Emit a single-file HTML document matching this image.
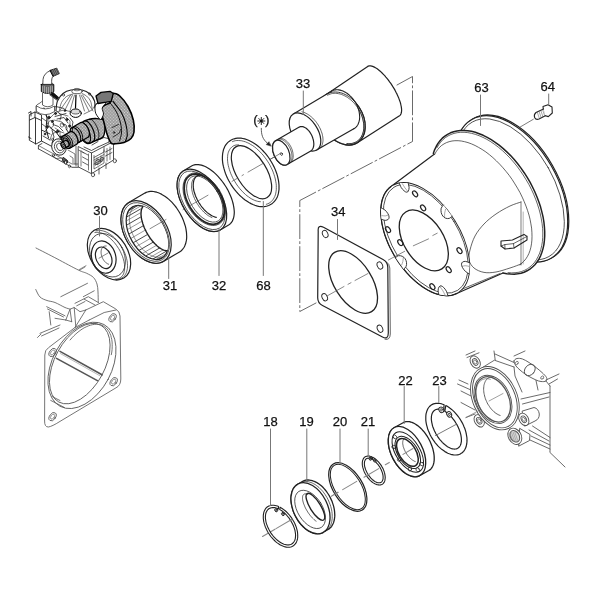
<!DOCTYPE html>
<html><head><meta charset="utf-8"><title>diagram</title>
<style>
html,body{margin:0;padding:0;background:#fff;}
body{width:600px;height:600px;overflow:hidden;}
svg{display:block;font-family:"Liberation Sans",sans-serif;}
text{fill:#111;stroke:#111;stroke-width:0.25px;}
.t{filter:grayscale(1);}
</style></head><body>
<svg width="600" height="600" viewBox="0 0 600 600" stroke-linecap="round" stroke-linejoin="round">
<defs><pattern id="ht" width="2.2" height="2.2" patternUnits="userSpaceOnUse" patternTransform="rotate(45)"><rect width="2.2" height="2.2" fill="#a3a3a3"/><rect width="1" height="1" fill="#d6d6d6"/><rect x="1.2" y="1.2" width="0.8" height="0.8" fill="#8c8c8c"/></pattern></defs>
<rect width="600" height="600" fill="#fff"/>
<path d="M36.0 248.0 C39.5 249.8 50.0 255.1 57.0 258.8 C64.0 262.5 73.3 267.6 78.3 270.0 C83.2 272.4 84.2 272.1 86.7 273.3 C89.2 274.6 91.8 275.7 93.5 277.5 C95.2 279.3 96.2 281.6 97.0 284.0 C97.8 286.4 97.8 288.9 98.0 292.0 C98.2 295.1 98.2 300.8 98.3 302.5" fill="none" stroke="#5c5c5c" stroke-width="0.85" />
<path d="M80.0 270.0 L85.0 267.0" fill="none" stroke="#5c5c5c" stroke-width="0.7" />
<path d="M35.8 289.5 C36.5 290.8 38.1 295.2 40.0 297.0 C41.9 298.8 44.5 299.6 47.0 300.5 C49.5 301.4 52.0 301.3 55.0 302.5 C58.0 303.7 62.5 306.4 65.0 307.5 C67.5 308.6 69.2 308.8 70.0 309.0" fill="none" stroke="#5c5c5c" stroke-width="0.85" />
<path d="M60.8 296.7 L87.5 283.3" fill="none" stroke="#5c5c5c" stroke-width="0.85" />
<path d="M83.3 296.7 L94.2 290.8" fill="none" stroke="#5c5c5c" stroke-width="0.85" />
<path d="M75.0 303.3 L88.3 296.7 L98.3 302.5" fill="none" stroke="#5c5c5c" stroke-width="0.85" />
<path d="M76.7 305.8 L85.0 301.5" fill="none" stroke="#5c5c5c" stroke-width="0.85" />
<path d="M84.2 299.2 L95.0 305.0" fill="none" stroke="#5c5c5c" stroke-width="0.85" />
<path d="M65.8 320.0 L70.0 309.2 L74.2 307.5 L75.8 326.7" fill="none" stroke="#5c5c5c" stroke-width="0.85" />
<path d="M70.0 309.5 L71.7 321.7" fill="none" stroke="#5c5c5c" stroke-width="0.85" />
<path d="M65.8 320.0 L71.7 321.7" fill="none" stroke="#5c5c5c" stroke-width="0.85" />
<path d="M74.2 307.5 L80.0 311.7 L85.8 310.0" fill="none" stroke="#5c5c5c" stroke-width="0.85" />
<path d="M46.7 306.7 L65.0 315.8" fill="none" stroke="#5c5c5c" stroke-width="0.85" />
<path d="M47.5 309.0 L63.5 317.0" fill="none" stroke="#5c5c5c" stroke-width="0.85" />
<path d="M49.2 311.7 L50.8 325.0" fill="none" stroke="#5c5c5c" stroke-width="0.85" />
<path d="M55.0 318.3 L65.8 320.0" fill="none" stroke="#5c5c5c" stroke-width="0.85" />
<path d="M40.0 333.3 L60.0 325.0" fill="none" stroke="#5c5c5c" stroke-width="0.85" />
<path d="M41.5 336.0 L59.0 328.0" fill="none" stroke="#5c5c5c" stroke-width="0.85" />
<path d="M37.5 337.5 L41.0 334.0" fill="none" stroke="#5c5c5c" stroke-width="0.85" />
<path d="M85.8 310 L103.3 301.7 L115.5 308.8 Q120 311.5 120 316 L120.8 379 Q120.8 385.5 116 387.8 L60 421.4 Q52 426.5 48.3 427 Q44.5 427 44.6 421 L44.8 355 Q44.8 350 48.5 347.7 L75 327.5" fill="none" stroke="#5c5c5c" stroke-width="0.85" />
<path d="M75.0 327.5 L85.8 310.0" fill="none" stroke="#5c5c5c" stroke-width="0.85" />
<path d="M89.2 320.0 L104.2 312.5 L116.0 310.0" fill="none" stroke="#5c5c5c" stroke-width="0.85" />
<path d="M75.5 327.3 L89.2 320.0" fill="none" stroke="#5c5c5c" stroke-width="0.85" />
<ellipse cx="82.0" cy="365.4" rx="29.6" ry="46.4" transform="rotate(28.2 82.0 365.4)" fill="none" stroke="#5c5c5c" stroke-width="0.85"/>
<ellipse cx="79.8" cy="363.6" rx="25.0" ry="43.8" transform="rotate(28.6 79.8 363.6)" fill="none" stroke="#5c5c5c" stroke-width="0.85"/>
<path d="M70.1 340.0 L72.0 337.8 L73.9 335.8 L75.9 333.9 L78.0 332.1 L80.1 330.5 L82.1 329.1 L84.2 327.8 L86.3 326.8 L88.4 325.9 L90.4 325.2 L92.4 324.7 L94.3 324.4 L96.2 324.3 L98.0 324.4 L99.8 324.7 L101.4 325.1 L103.0 325.8 L104.5 326.7 L105.8 327.7 L107.1 329.0 L108.2 330.4 L109.2 331.9 L110.0 333.7 L110.8 335.5 L111.3 337.6 L111.8 339.7 L112.1 342.0 L112.2 344.4 L112.2 346.8 L112.1 349.4 L111.8 352.0 L111.3 354.7" fill="none" stroke="#5c5c5c" stroke-width="0.85" />
<path d="M60.0 351.4 L102.0 374.7" fill="none" stroke="#555" stroke-width="1.6" />
<path d="M56.5 358.4 L97.4 380.6" fill="none" stroke="#555" stroke-width="1.6" />
<path d="M60.5 353.6 L100.0 375.8" fill="none" stroke="#888" stroke-width="0.6" />
<path d="M50.7 400.4 L64.5 407.5" fill="none" stroke="#5c5c5c" stroke-width="0.85" />
<path d="M52.0 396.5 L60.0 400.5" fill="none" stroke="#5c5c5c" stroke-width="0.85" />
<ellipse cx="112.6" cy="317.8" rx="3.0" ry="4.6" transform="rotate(35.0 112.6 317.8)" fill="none" stroke="#5c5c5c" stroke-width="0.85"/>
<ellipse cx="112.6" cy="317.8" rx="1.7" ry="2.8" transform="rotate(35.0 112.6 317.8)" fill="none" stroke="#5c5c5c" stroke-width="0.6"/>
<ellipse cx="52.6" cy="352.5" rx="3.0" ry="4.6" transform="rotate(35.0 52.6 352.5)" fill="none" stroke="#5c5c5c" stroke-width="0.85"/>
<ellipse cx="52.6" cy="352.5" rx="1.7" ry="2.8" transform="rotate(35.0 52.6 352.5)" fill="none" stroke="#5c5c5c" stroke-width="0.6"/>
<ellipse cx="113.7" cy="381.7" rx="3.0" ry="4.6" transform="rotate(35.0 113.7 381.7)" fill="none" stroke="#5c5c5c" stroke-width="0.85"/>
<ellipse cx="113.7" cy="381.7" rx="1.7" ry="2.8" transform="rotate(35.0 113.7 381.7)" fill="none" stroke="#5c5c5c" stroke-width="0.6"/>
<ellipse cx="52.6" cy="416.7" rx="3.0" ry="4.6" transform="rotate(35.0 52.6 416.7)" fill="none" stroke="#5c5c5c" stroke-width="0.85"/>
<ellipse cx="52.6" cy="416.7" rx="1.7" ry="2.8" transform="rotate(35.0 52.6 416.7)" fill="none" stroke="#5c5c5c" stroke-width="0.6"/>
<path d="M457.5 384.0 L471.0 390.0" fill="none" stroke="#505050" stroke-width="0.85" />
<path d="M461.0 391.0 L471.0 396.0" fill="none" stroke="#505050" stroke-width="0.85" />
<path d="M461.0 402.5 L475.0 410.0" fill="none" stroke="#505050" stroke-width="0.85" />
<path d="M466.0 417.5 L475.0 414.0" fill="none" stroke="#505050" stroke-width="0.85" />
<path d="M459.0 380.0 L468.0 384.0" fill="none" stroke="#505050" stroke-width="0.85" />
<path d="M482.5 367.5 L494.4 360.2 L514.0 367.0" fill="none" stroke="#505050" stroke-width="0.85" />
<path d="M494.0 351.0 L495.2 360.0" fill="none" stroke="#505050" stroke-width="0.85" />
<path d="M495.0 354.0 L514.0 362.5" fill="none" stroke="#505050" stroke-width="0.85" />
<path d="M466.0 355.0 L475.0 351.0" fill="none" stroke="#505050" stroke-width="0.85" />
<path d="M467.0 357.5 L479.0 352.8" fill="none" stroke="#505050" stroke-width="0.85" />
<path d="M514.0 356.0 L525.0 351.0" fill="none" stroke="#505050" stroke-width="0.85" />
<path d="M514.0 361.0 C514.2 359.8 515.6 358.8 517.0 358.5 C518.4 358.2 520.5 358.3 522.5 359.0 C524.5 359.7 526.8 361.1 529.0 362.5 C531.2 363.9 533.8 365.8 536.0 367.5 C538.2 369.2 540.2 370.8 542.0 372.5 C543.8 374.2 545.8 376.1 546.5 377.5 C547.2 378.9 546.9 380.3 546.0 381.0 C545.1 381.7 542.7 381.7 541.0 381.5 C539.3 381.3 537.8 380.8 536.0 380.0 C534.2 379.2 531.8 378.0 530.0 377.0 C528.2 376.0 526.7 375.2 525.0 374.0 C523.3 372.8 521.5 371.3 520.0 370.0 C518.5 368.7 517.0 367.5 516.0 366.0 C515.0 364.5 513.8 362.2 514.0 361.0Z" fill="#fff" stroke="#505050" stroke-width="0.9" />
<ellipse cx="529.8" cy="370.0" rx="4.8" ry="6.3" transform="rotate(40.0 529.8 370.0)" fill="none" stroke="#505050" stroke-width="0.9"/>
<ellipse cx="516.8" cy="363.0" rx="1.3" ry="1.8" transform="rotate(40.0 516.8 363.0)" fill="none" stroke="#505050" stroke-width="0.7"/>
<ellipse cx="542.2" cy="377.6" rx="1.3" ry="1.8" transform="rotate(40.0 542.2 377.6)" fill="none" stroke="#505050" stroke-width="0.7"/>
<path d="M546.0 380.0 L559.0 374.0" fill="none" stroke="#505050" stroke-width="0.85" />
<path d="M549.0 384.0 L557.5 379.0" fill="none" stroke="#505050" stroke-width="0.85" />
<path d="M514.0 367.0 L515.0 376.0 L522.0 392.0" fill="none" stroke="#505050" stroke-width="0.85" />
<path d="M536.0 380.5 L538.0 390.0" fill="none" stroke="#505050" stroke-width="0.85" />
<path d="M550.0 386.0 L550.0 452.0" fill="none" stroke="#505050" stroke-width="0.85" />
<path d="M521.0 399.0 L550.0 392.5" fill="none" stroke="#505050" stroke-width="0.85" />
<path d="M522.5 404.0 L549.0 397.0" fill="none" stroke="#505050" stroke-width="0.85" />
<path d="M546.0 381.0 L550.0 386.0" fill="none" stroke="#505050" stroke-width="0.85" />
<path d="M522.5 411 L534 407.5 Q538.5 408.5 539.3 414 Q539.5 419 535 421 L525 426 Z" fill="#fff" stroke="#505050" stroke-width="0.9" />
<ellipse cx="523.8" cy="419.3" rx="4.6" ry="6.6" transform="rotate(-30.0 523.8 419.3)" fill="#fff" stroke="#505050" stroke-width="0.9"/>
<ellipse cx="523.8" cy="419.3" rx="2.4" ry="3.6" transform="rotate(-30.0 523.8 419.3)" fill="none" stroke="#505050" stroke-width="0.9"/>
<ellipse cx="523.8" cy="419.3" rx="1.4" ry="2.2" transform="rotate(-30.0 523.8 419.3)" fill="none" stroke="#505050" stroke-width="0.6"/>
<path d="M532.5 426.0 L550.0 437.5" fill="none" stroke="#505050" stroke-width="0.85" />
<path d="M529.0 430.0 L549.0 441.0" fill="none" stroke="#505050" stroke-width="0.85" />
<path d="M520 428.5 L530 434.5 L529.5 440.5 L519 446 Z" fill="#fff" stroke="#505050" stroke-width="0.9" />
<ellipse cx="514.8" cy="436.3" rx="6.4" ry="8.6" transform="rotate(-30.0 514.8 436.3)" fill="#fff" stroke="#505050" stroke-width="0.9"/>
<ellipse cx="514.8" cy="436.3" rx="4.4" ry="6.2" transform="rotate(-30.0 514.8 436.3)" fill="#ddd" stroke="#555" stroke-width="1.0"/>
<line x1="508.3" y1="433.1" x2="511.3" y2="441.6" stroke="#777" stroke-width="0.5" />
<line x1="509.9" y1="432.8" x2="512.9" y2="441.3" stroke="#777" stroke-width="0.5" />
<line x1="511.5" y1="432.5" x2="514.5" y2="441.0" stroke="#777" stroke-width="0.5" />
<line x1="513.1" y1="432.2" x2="516.1" y2="440.7" stroke="#777" stroke-width="0.5" />
<line x1="514.7" y1="431.9" x2="517.7" y2="440.4" stroke="#777" stroke-width="0.5" />
<path d="M530.0 440.0 L550.0 449.0" fill="none" stroke="#505050" stroke-width="0.85" />
<path d="M550.0 452.5 L565.0 467.0" fill="none" stroke="#505050" stroke-width="0.85" />
<path d="M531.0 436.0 L550.0 445.0" fill="none" stroke="#505050" stroke-width="0.85" />
<ellipse cx="475.2" cy="362.0" rx="4.6" ry="6.6" transform="rotate(-30.0 475.2 362.0)" fill="#fff" stroke="#505050" stroke-width="0.9"/>
<ellipse cx="475.2" cy="362.0" rx="2.4" ry="3.6" transform="rotate(-30.0 475.2 362.0)" fill="none" stroke="#505050" stroke-width="0.9"/>
<ellipse cx="475.2" cy="362.0" rx="1.4" ry="2.2" transform="rotate(-30.0 475.2 362.0)" fill="none" stroke="#505050" stroke-width="0.6"/>
<ellipse cx="479.2" cy="420.8" rx="4.6" ry="6.6" transform="rotate(-30.0 479.2 420.8)" fill="#fff" stroke="#505050" stroke-width="0.9"/>
<ellipse cx="479.2" cy="420.8" rx="2.4" ry="3.6" transform="rotate(-30.0 479.2 420.8)" fill="none" stroke="#505050" stroke-width="0.9"/>
<ellipse cx="479.2" cy="420.8" rx="1.4" ry="2.2" transform="rotate(-30.0 479.2 420.8)" fill="none" stroke="#505050" stroke-width="0.6"/>
<ellipse cx="494.9" cy="398.2" rx="22.1" ry="33.2" transform="rotate(-24.1 494.9 398.2)" fill="#fff" stroke="#505050" stroke-width="0.9"/>
<ellipse cx="494.9" cy="398.2" rx="20.1" ry="31.2" transform="rotate(-24.1 494.9 398.2)" fill="none" stroke="#505050" stroke-width="0.9"/>
<ellipse cx="493.0" cy="399.4" rx="17.2" ry="25.4" transform="rotate(-25.2 493.0 399.4)" fill="none" stroke="#505050" stroke-width="0.9"/>
<ellipse cx="493.0" cy="399.4" rx="15.7" ry="23.9" transform="rotate(-25.2 493.0 399.4)" fill="none" stroke="#555" stroke-width="1.3"/>
<path d="M500.1 415.4 L499.1 415.1 L498.1 414.6 L497.1 414.0 L496.0 413.4 L495.0 412.6 L494.0 411.8 L493.1 410.9 L492.1 409.9 L491.2 408.9 L490.3 407.8 L489.5 406.6 L488.7 405.4 L487.9 404.2 L487.2 402.9 L486.6 401.5 L486.0 400.2 L485.4 398.8 L485.0 397.4 L484.6 396.0 L484.3 394.6 L484.0 393.3 L483.8 391.9 L483.7 390.6 L483.6 389.2 L483.7 388.0 L483.8 386.7 L483.9 385.5 L484.2 384.4 L484.5 383.3 L484.9 382.3 L485.3 381.4 L485.8 380.5 L486.4 379.7 L487.0 379.0 L487.7 378.4 L488.5 377.9 L489.3 377.4 L490.1 377.1 L491.0 376.9 L491.9 376.7 L492.8 376.7 L493.8 376.7" fill="none" stroke="#505050" stroke-width="0.9" />
<path d="M491.2 419.3 L490.0 418.6 L488.9 417.9 L487.8 417.1 L486.7 416.2 L485.7 415.2 L484.7 414.1 L483.7 413.0 L482.7 411.8 L481.8 410.5 L481.0 409.2 L480.2 407.8 L479.5 406.4 L478.8 405.0 L478.2 403.5 L477.7 402.0 L477.2 400.5 L476.9 399.0 L476.6 397.6 L476.3 396.1 L476.2 394.6 L476.1 393.2 L476.1 391.8 L476.2 390.4 L476.4 389.1 L476.6 387.8 L477.0 386.6 L477.4 385.5 L477.8 384.4 L478.4 383.5 L479.0 382.6 L479.7 381.7 L480.4 381.0 L481.2 380.4 L482.1 379.8 L483.0 379.4 L483.9 379.1 L484.9 378.8 L485.9 378.7 L487.0 378.7 L488.1 378.8 L489.2 379.0 L490.3 379.3" fill="none" stroke="#505050" stroke-width="0.6" />
<line x1="489.0" y1="401.0" x2="503.0" y2="393.5" stroke="#777" stroke-width="0.7" />
<line x1="466.0" y1="417.5" x2="478.0" y2="411.0" stroke="#777" stroke-width="0.7" />
<path d="M29.7 114.5 L35.0 112.0 L41.5 115.0 L41.5 141.0 L36.0 144.0 L29.7 140.5Z" fill="#fff" stroke="#222" stroke-width="0.9" />
<path d="M35.0 112.0 L35.0 117.5 L29.7 120.0" fill="none" stroke="#222" stroke-width="0.9" />
<path d="M35.0 117.5 L41.5 120.5" fill="none" stroke="#222" stroke-width="0.9" />
<path d="M35.5 118.0 L35.5 144.0" fill="none" stroke="#222" stroke-width="0.9" />
<path d="M28.5 113.0 L31.0 111.5 L31.0 116.0" fill="none" stroke="#222" stroke-width="0.9" />
<path d="M28.5 137.0 L31.0 138.5" fill="none" stroke="#222" stroke-width="0.9" />
<path d="M38.4 148.8 L72.0 167.3 L78.0 167.3 L84.0 164.0 L84.0 160.0" fill="none" stroke="#222" stroke-width="0.8" />
<path d="M38.4 148.8 L38.4 145.5 L42.0 143.5" fill="none" stroke="#222" stroke-width="0.8" />
<path d="M38.4 145.5 L72.0 164.0 L78.0 164.0" fill="none" stroke="#222" stroke-width="0.6" />
<path d="M41.5 141.0 L52.0 146.5" fill="none" stroke="#222" stroke-width="0.9" />
<path d="M41.5 130.0 L50.0 134.0" fill="none" stroke="#222" stroke-width="0.9" />
<path d="M78.5 146.7 L91.5 153.0 L113.5 141.5 L113.5 160.0 L91.5 173.7 L78.5 167.0Z" fill="#fff" stroke="#222" stroke-width="0.8" />
<path d="M91.5 153.0 L91.5 173.7" fill="none" stroke="#222" stroke-width="0.8" />
<path d="M81.0 150.5 L81.0 166.0" fill="none" stroke="#222" stroke-width="0.6" />
<path d="M88.5 154.0 L88.5 170.0" fill="none" stroke="#222" stroke-width="0.6" />
<path d="M94.0 155.5 L94.0 169.0 L104.0 163.0 L104.0 150.0" fill="none" stroke="#222" stroke-width="0.6" />
<path d="M97.0 158.0 L97.0 165.0 L101.0 162.5 L101.0 156.0" fill="none" stroke="#222" stroke-width="0.6" />
<path d="M107.0 148.5 L107.0 161.0" fill="none" stroke="#222" stroke-width="0.6" />
<path d="M110.0 147.0 L110.0 159.5" fill="none" stroke="#222" stroke-width="0.6" />
<path d="M94.0 160.0 L104.0 154.5" fill="none" stroke="#222" stroke-width="0.6" />
<path d="M94.0 164.0 L104.0 158.5" fill="none" stroke="#222" stroke-width="0.6" />
<ellipse cx="93.0" cy="174.8" rx="1.6" ry="2.0" transform="rotate(0.0 93.0 174.8)" fill="#fff" stroke="#222" stroke-width="0.7"/>
<ellipse cx="114.8" cy="160.8" rx="1.6" ry="2.0" transform="rotate(0.0 114.8 160.8)" fill="#fff" stroke="#222" stroke-width="0.7"/>
<ellipse cx="110.0" cy="142.0" rx="1.5" ry="1.8" transform="rotate(0.0 110.0 142.0)" fill="#fff" stroke="#222" stroke-width="0.6"/>
<path d="M94.0 157.5 L104.0 152.0 L104.0 147.0" fill="none" stroke="#222" stroke-width="0.7" />
<path d="M99.0 168.0 L99.0 174.0" fill="none" stroke="#222" stroke-width="0.7" />
<path d="M106.0 163.0 L106.0 168.5" fill="none" stroke="#222" stroke-width="0.7" />
<path d="M82.5 152.0 L88.0 155.0" fill="none" stroke="#222" stroke-width="0.7" />
<path d="M82.5 157.0 L88.0 160.0" fill="none" stroke="#222" stroke-width="0.7" />
<path d="M82.5 162.0 L88.0 165.0" fill="none" stroke="#222" stroke-width="0.7" />
<path d="M95.5 161.0 L99.0 159.0 L99.0 163.0 L95.5 165.0Z" fill="none" stroke="#222" stroke-width="0.8" />
<path d="M100.5 158.3 L103.0 157.0 L103.0 160.5 L100.5 162.0Z" fill="none" stroke="#222" stroke-width="0.8" />
<path d="M105.5 152.0 L112.0 148.5" fill="none" stroke="#222" stroke-width="0.7" />
<path d="M105.5 156.0 L112.0 152.5" fill="none" stroke="#222" stroke-width="0.7" />
<ellipse cx="59.0" cy="147.0" rx="7.2" ry="8.3" transform="rotate(-20.0 59.0 147.0)" fill="#fff" stroke="#222" stroke-width="0.9"/>
<ellipse cx="59.5" cy="147.0" rx="5.0" ry="6.0" transform="rotate(-20.0 59.5 147.0)" fill="none" stroke="#222" stroke-width="0.7"/>
<ellipse cx="60.0" cy="146.8" rx="3.2" ry="3.8" transform="rotate(-20.0 60.0 146.8)" fill="none" stroke="#222" stroke-width="0.7"/>
<path d="M50.0 140.0 L52.0 134.0 L58.0 131.0 L64.0 133.0" fill="none" stroke="#222" stroke-width="0.6" />
<path d="M52.0 155.0 L56.0 158.5 L62.0 158.0" fill="none" stroke="#222" stroke-width="0.6" />
<ellipse cx="52.5" cy="139.5" rx="1.0" ry="1.2" transform="rotate(0.0 52.5 139.5)" fill="none" stroke="#222" stroke-width="0.6"/>
<ellipse cx="53.5" cy="155.3" rx="1.0" ry="1.2" transform="rotate(0.0 53.5 155.3)" fill="none" stroke="#222" stroke-width="0.6"/>
<path d="M63.5 157.5 L67.5 160.5 L66.5 163.5 L62.5 161 Z" fill="#555" stroke="#000" stroke-width="0.8" />
<ellipse cx="65.8" cy="162.4" rx="1.3" ry="1.7" transform="rotate(0.0 65.8 162.4)" fill="#fff" stroke="#000" stroke-width="0.8"/>
<path d="M68.0 150.0 L75.0 154.0 L75.0 164.0" fill="none" stroke="#222" stroke-width="0.6" />
<path d="M70.0 156.0 L73.0 158.0 L73.0 163.0" fill="none" stroke="#222" stroke-width="0.6" />
<ellipse cx="69.5" cy="166.3" rx="1.1" ry="1.5" transform="rotate(0.0 69.5 166.3)" fill="none" stroke="#222" stroke-width="0.6"/>
<path d="M50.0 118.0 L56.0 112.0 L64.0 110.0 L72.0 112.0" fill="none" stroke="#222" stroke-width="0.6" />
<path d="M47.0 124.0 L54.0 120.0 L62.0 122.0 L66.0 128.0" fill="none" stroke="#222" stroke-width="0.6" />
<path d="M44.0 112.0 L48.0 118.0 L48.0 128.0 L44.0 132.0" fill="none" stroke="#222" stroke-width="0.6" />
<ellipse cx="51.0" cy="124.0" rx="2.6" ry="3.5" transform="rotate(-10.0 51.0 124.0)" fill="#fff" stroke="#222" stroke-width="0.6"/>
<ellipse cx="62.0" cy="125.0" rx="1.8" ry="2.2" transform="rotate(0.0 62.0 125.0)" fill="none" stroke="#222" stroke-width="0.6"/>
<path d="M55.0 128.0 L60.0 131.0 L60.0 137.0" fill="none" stroke="#222" stroke-width="0.6" />
<path d="M66.0 117.0 L70.0 121.0 L70.0 128.0" fill="none" stroke="#222" stroke-width="0.6" />
<ellipse cx="49.0" cy="117.5" rx="1.2" ry="1.5" transform="rotate(0.0 49.0 117.5)" fill="#333" stroke="#000" stroke-width="0.5"/>
<ellipse cx="52.3" cy="121.5" rx="1.0" ry="1.2" transform="rotate(0.0 52.3 121.5)" fill="#333" stroke="#000" stroke-width="0.5"/>
<ellipse cx="47.3" cy="126.8" rx="1.0" ry="1.3" transform="rotate(0.0 47.3 126.8)" fill="#333" stroke="#000" stroke-width="0.5"/>
<ellipse cx="57.5" cy="131.5" rx="1.1" ry="1.4" transform="rotate(0.0 57.5 131.5)" fill="#333" stroke="#000" stroke-width="0.5"/>
<ellipse cx="61.0" cy="137.0" rx="1.0" ry="1.2" transform="rotate(0.0 61.0 137.0)" fill="#333" stroke="#000" stroke-width="0.5"/>
<ellipse cx="55.5" cy="113.5" rx="1.0" ry="1.2" transform="rotate(0.0 55.5 113.5)" fill="#333" stroke="#000" stroke-width="0.5"/>
<ellipse cx="67.0" cy="119.5" rx="1.0" ry="1.3" transform="rotate(0.0 67.0 119.5)" fill="#333" stroke="#000" stroke-width="0.5"/>
<ellipse cx="69.5" cy="126.0" rx="1.0" ry="1.2" transform="rotate(0.0 69.5 126.0)" fill="#333" stroke="#000" stroke-width="0.5"/>
<ellipse cx="45.0" cy="134.0" rx="0.9" ry="1.1" transform="rotate(0.0 45.0 134.0)" fill="#333" stroke="#000" stroke-width="0.5"/>
<ellipse cx="65.0" cy="110.5" rx="0.9" ry="1.1" transform="rotate(0.0 65.0 110.5)" fill="#333" stroke="#000" stroke-width="0.5"/>
<path d="M44.0 108.0 L47.0 118.0 L46.0 128.0 L48.5 138.0" fill="none" stroke="#000" stroke-width="0.9" />
<path d="M48.0 110.0 L56.0 106.5 L64.0 108.5" fill="none" stroke="#222" stroke-width="0.8" />
<path d="M50.0 127.5 L56.0 132.0 L61.5 139.5" fill="none" stroke="#000" stroke-width="0.9" />
<path d="M55.0 116.5 L66.0 113.5" fill="none" stroke="#222" stroke-width="0.8" />
<path d="M57.0 119.0 L64.0 117.5 L68.0 123.0" fill="none" stroke="#222" stroke-width="0.8" />
<path d="M53.0 124.5 L58.5 126.5 L63.0 131.0" fill="none" stroke="#222" stroke-width="0.8" />
<path d="M66.0 129.0 L69.0 133.0 L68.0 138.0" fill="none" stroke="#000" stroke-width="0.9" />
<path d="M42.0 118.0 L46.0 121.0" fill="none" stroke="#222" stroke-width="0.7" />
<path d="M42.0 124.0 L46.0 127.0" fill="none" stroke="#222" stroke-width="0.7" />
<path d="M43.0 136.0 L50.0 140.0" fill="none" stroke="#222" stroke-width="0.8" />
<path d="M58.0 112.0 C58.5 112.6 60.7 114.2 61.0 115.5 C61.3 116.8 60.2 119.2 60.0 120.0" fill="none" stroke="#222" stroke-width="0.8" />
<path d="M62.0 124.0 C62.7 124.2 65.2 124.2 66.0 125.0 C66.8 125.8 66.8 128.3 67.0 129.0" fill="none" stroke="#222" stroke-width="0.8" />
<path d="M70.0 118.0 L73.0 122.0 L72.0 127.0" fill="none" stroke="#222" stroke-width="0.8" />
<path d="M52.0 130.0 L54.0 137.0 L52.0 143.0" fill="none" stroke="#222" stroke-width="0.8" />
<path d="M76.0 146.0 L76.0 166.0" fill="none" stroke="#222" stroke-width="0.7" />
<path d="M78.5 150.0 L84.0 153.0" fill="none" stroke="#222" stroke-width="0.6" />
<path d="M96.0 141.0 L104.0 137.5 L110.0 139.0" fill="none" stroke="#222" stroke-width="0.8" />
<path d="M98.0 147.0 L108.0 142.5" fill="none" stroke="#222" stroke-width="0.8" />
<path d="M92.0 145.0 L98.0 141.5" fill="none" stroke="#222" stroke-width="0.8" />
<path d="M84.0 147.0 L91.5 150.5 L98.0 147.0" fill="none" stroke="#222" stroke-width="0.8" />
<path d="M36.5 111.0 C36.5 110.1 35.9 106.8 36.5 105.5 C37.1 104.2 39.0 103.8 40.0 103.0 C41.0 102.2 42.1 101.3 42.5 101.0" fill="none" stroke="#222" stroke-width="0.7" />
<path d="M36.5 106 Q45 112 54.5 106 L54.5 111.5 Q45 118 36.5 111.5 Z" fill="#fff" stroke="#222" stroke-width="0.7" />
<path d="M42.5 92 L42.5 105 Q47.5 108.5 53 105 L53 92 Z" fill="#fff" stroke="#222" stroke-width="0.7" />
<path d="M41.3 84.5 L41.3 91.5 Q47.5 95.5 53.8 91.5 L53.8 84.5 Q47.5 81 41.3 84.5 Z" fill="#666" stroke="#000" stroke-width="0.9" />
<path d="M42.5 86.5 L42.5 92.5" fill="none" stroke="#ddd" stroke-width="0.5" />
<path d="M44.5 86.5 L44.5 92.5" fill="none" stroke="#ddd" stroke-width="0.5" />
<path d="M46.5 87.3 L46.5 93.3" fill="none" stroke="#ddd" stroke-width="0.5" />
<path d="M48.5 87.3 L48.5 93.3" fill="none" stroke="#ddd" stroke-width="0.5" />
<path d="M50.5 86.5 L50.5 92.5" fill="none" stroke="#ddd" stroke-width="0.5" />
<path d="M52.5 86.5 L52.5 92.5" fill="none" stroke="#ddd" stroke-width="0.5" />
<path d="M42.8 84 L43 79.5 Q43.5 73.5 50.5 70.5 L53.5 76 Q51 77.5 51.8 84 Z" fill="#fff" stroke="#222" stroke-width="0.8" />
<path d="M50.3 70.3 L56.8 68.2 L59.3 73.6 L53.3 76.2 Z" fill="#444" stroke="#000" stroke-width="0.9" />
<path d="M52.0 69.9 L54.6 75.4" fill="none" stroke="#bbb" stroke-width="0.5" />
<path d="M53.6 69.4 L56.2 74.9" fill="none" stroke="#bbb" stroke-width="0.5" />
<path d="M55.2 68.9 L57.8 74.4" fill="none" stroke="#bbb" stroke-width="0.5" />
<path d="M56.8 68.4 L59.4 73.9" fill="none" stroke="#bbb" stroke-width="0.5" />
<path d="M50 94.5 L53 92.5 L58.8 97.5 L57 99.8 Z" fill="#111" stroke="#000" stroke-width="0.7" />
<path d="M56.0 110.5 C56.2 108.9 56.3 103.8 57.5 101.0 C58.7 98.2 60.8 95.3 63.0 93.5 C65.2 91.7 67.8 90.6 71.0 90.0 C74.2 89.4 78.8 89.3 82.0 90.0 C85.2 90.7 87.9 92.2 90.0 94.0 C92.1 95.8 93.7 98.7 94.5 101.0 C95.3 103.3 94.9 106.8 95.0 108.0" fill="none" stroke="#222" stroke-width="1.1" />
<path d="M59.5 110.0 C59.8 108.8 60.3 104.8 61.5 102.5 C62.7 100.2 64.6 97.9 66.5 96.5 C68.4 95.1 71.9 94.4 73.0 94.0" fill="none" stroke="#222" stroke-width="0.6" />
<path d="M92.0 108.0 C91.8 106.8 91.4 103.0 90.5 101.0 C89.6 99.0 87.9 97.2 86.5 96.0 C85.1 94.8 82.8 93.9 82.0 93.5" fill="none" stroke="#222" stroke-width="0.6" />
<ellipse cx="77.0" cy="91.5" rx="5.2" ry="2.2" transform="rotate(0.0 77.0 91.5)" fill="#fff" stroke="#222" stroke-width="0.7"/>
<ellipse cx="77.0" cy="89.6" rx="3.4" ry="1.2" transform="rotate(0.0 77.0 89.6)" fill="none" stroke="#222" stroke-width="0.6"/>
<path d="M70.7 95.0 L59.5 111.0" fill="none" stroke="#222" stroke-width="0.6" />
<path d="M72.5 95.0 L64.5 111.0" fill="none" stroke="#222" stroke-width="0.6" />
<path d="M74.5 95.0 L70.0 111.0" fill="none" stroke="#222" stroke-width="0.6" />
<path d="M79.5 95.0 L84.5 111.0" fill="none" stroke="#222" stroke-width="0.6" />
<path d="M81.0 95.0 L89.0 111.0" fill="none" stroke="#222" stroke-width="0.6" />
<path d="M82.6 95.0 L93.0 111.0" fill="none" stroke="#222" stroke-width="0.6" />
<path d="M76.0 95.0 L75.5 108.0" fill="none" stroke="#000" stroke-width="1.2" />
<ellipse cx="75.7" cy="113.2" rx="5.6" ry="4.2" transform="rotate(0.0 75.7 113.2)" fill="#fff" stroke="#000" stroke-width="1.0"/>
<ellipse cx="75.7" cy="111.6" rx="4.4" ry="2.4" transform="rotate(0.0 75.7 111.6)" fill="#ddd" stroke="#222" stroke-width="0.7"/>
<path d="M55.5 110.0 L59.0 113.5 L68.0 116.0" fill="none" stroke="#222" stroke-width="0.6" />
<path d="M84.0 114.0 L92.0 110.0 L96.0 104.0" fill="none" stroke="#222" stroke-width="0.6" />
<ellipse cx="63.5" cy="95.0" rx="1.0" ry="1.2" transform="rotate(0.0 63.5 95.0)" fill="none" stroke="#222" stroke-width="0.6"/>
<ellipse cx="89.5" cy="94.0" rx="1.0" ry="1.2" transform="rotate(0.0 89.5 94.0)" fill="none" stroke="#222" stroke-width="0.6"/>
<path d="M81.9 122.7 C83.1 121.0 85.9 120.2 88.0 119.6 C90.1 119.0 93.7 118.4 96.0 118.5 C98.3 118.6 102.2 118.6 103.5 120.0 C104.8 121.4 105.1 125.5 105.0 128.0 C104.9 130.6 104.5 135.1 103.0 137.0 C101.5 138.9 97.3 139.8 95.0 140.8 C92.7 141.8 89.7 143.8 87.8 143.6 C85.9 143.4 83.5 141.4 82.3 139.5 C81.1 137.6 80.1 133.5 80.0 131.0 C79.9 128.5 80.7 124.4 81.9 122.7Z" fill="url(#ht)" stroke="#000" stroke-width="1.3" />
<ellipse cx="84.8" cy="133.0" rx="4.6" ry="10.6" transform="rotate(-22.0 84.8 133.0)" fill="url(#ht)" stroke="#000" stroke-width="1.0"/>
<path d="M85.1 121.0 L85.4 121.0 L85.7 121.0 L86.1 121.0 L86.5 121.2 L86.9 121.3 L87.3 121.5 L87.7 121.8 L88.1 122.1 L88.5 122.5 L88.9 122.9 L89.3 123.3 L89.7 123.8 L90.1 124.3 L90.5 124.8 L90.9 125.4 L91.3 126.0 L91.7 126.7 L92.0 127.3 L92.4 128.0 L92.7 128.7 L93.0 129.4 L93.3 130.1 L93.5 130.8 L93.8 131.6 L94.0 132.3 L94.2 133.0 L94.3 133.7 L94.5 134.4 L94.6 135.1 L94.7 135.7 L94.7 136.4 L94.7 137.0 L94.7 137.6 L94.7 138.1 L94.6 138.7 L94.5 139.2 L94.4 139.6 L94.3 140.0 L94.1 140.4 L93.9 140.7 L93.7 141.0 L93.4 141.2 L93.1 141.4 L92.8 141.5 L92.5 141.6" fill="none" stroke="#000" stroke-width="1.2" />
<path d="M89.3 119.2 L89.6 119.2 L89.9 119.2 L90.3 119.2 L90.7 119.4 L91.1 119.5 L91.5 119.7 L91.9 120.0 L92.3 120.3 L92.7 120.7 L93.1 121.1 L93.5 121.5 L93.9 122.0 L94.3 122.5 L94.7 123.0 L95.1 123.6 L95.5 124.2 L95.9 124.9 L96.2 125.5 L96.6 126.2 L96.9 126.9 L97.2 127.6 L97.5 128.3 L97.7 129.0 L98.0 129.8 L98.2 130.5 L98.4 131.2 L98.5 131.9 L98.7 132.6 L98.8 133.3 L98.9 133.9 L98.9 134.6 L98.9 135.2 L98.9 135.8 L98.9 136.3 L98.8 136.9 L98.7 137.4 L98.6 137.8 L98.5 138.2 L98.3 138.6 L98.1 138.9 L97.9 139.2 L97.6 139.4 L97.3 139.6 L97.0 139.7 L96.7 139.8" fill="none" stroke="#000" stroke-width="0.9" />
<path d="M100.3 109.0 C100.5 107.0 103.7 105.9 105.0 105.0 C106.3 104.1 109.1 103.5 110.0 102.6 C110.9 101.7 111.1 99.2 111.5 98.0 C111.9 96.8 111.9 93.6 113.0 93.3 C114.1 93.0 117.8 94.2 119.8 96.0 C121.8 97.8 126.2 103.3 128.0 106.5 C129.8 109.7 132.5 116.6 133.3 120.0 C134.1 123.4 134.3 129.5 134.0 132.0 C133.7 134.5 132.3 137.1 131.0 138.5 C129.7 139.9 126.1 141.8 124.0 142.5 C121.9 143.2 117.0 143.7 115.3 143.8 C113.6 143.9 112.1 144.4 111.0 143.0 C109.9 141.6 107.7 136.1 106.7 133.0 C105.7 129.9 104.2 123.2 103.3 120.0 C102.4 116.8 100.1 111.0 100.3 109.0Z" fill="url(#ht)" stroke="#000" stroke-width="1.6" />
<path d="M113.0 101.3 C114.4 103.2 119.2 108.8 121.3 112.5 C123.4 116.2 124.8 120.0 125.8 123.8 C126.8 127.5 127.3 132.1 127.3 135.0 C127.2 137.9 125.8 140.0 125.5 141.0" fill="none" stroke="#000" stroke-width="1.1" />
<path d="M110.0 102.8 C111.1 104.3 114.8 108.6 116.5 112.0 C118.2 115.4 119.7 119.5 120.5 123.0 C121.3 126.5 121.7 130.0 121.5 133.0 C121.3 136.0 119.8 139.7 119.5 141.0" fill="none" stroke="#000" stroke-width="0.9" />
<path d="M97.0 103.5 C98.5 102.9 105.3 101.7 106.0 102.3 C106.7 102.9 102.5 106.4 102.2 108.0 C101.9 109.6 103.7 112.5 103.5 114.0 C103.3 115.5 101.5 119.6 100.5 119.5 C99.5 119.4 96.5 115.2 95.8 113.5 C95.1 111.8 94.8 108.3 95.0 107.0 C95.2 105.7 95.5 104.1 97.0 103.5Z" fill="#fff" stroke="#000" stroke-width="0.9" />
<path d="M96 96 L101 92.4 L110 91.3 L113.3 93.5 L111.2 101.3 L106.3 102.2 L98 103.5 Z" fill="#777" stroke="#000" stroke-width="1.3" />
<path d="M112.0 127.5 L118.5 124.5" fill="none" stroke="#000" stroke-width="0.7" />
<path d="M113.0 137.0 L119.5 133.0 L120.5 129.5" fill="none" stroke="#000" stroke-width="0.7" />
<ellipse cx="114.0" cy="132.5" rx="0.8" ry="1.0" transform="rotate(0.0 114.0 132.5)" fill="none" stroke="#000" stroke-width="0.6"/>
<path d="M79.3 142.3 L79.1 142.4 L78.8 142.5 L78.5 142.5 L78.2 142.6 L77.8 142.5 L77.5 142.5 L77.2 142.4 L76.8 142.3 L76.5 142.1 L76.1 141.9 L75.7 141.7 L75.4 141.4 L75.0 141.1 L74.6 140.8 L74.3 140.4 L73.9 140.1 L73.6 139.7 L73.2 139.2 L72.9 138.8 L72.6 138.3 L72.3 137.8 L72.0 137.4 L71.7 136.8 L71.5 136.3 L71.3 135.8 L71.0 135.3 L70.9 134.8 L70.7 134.2 L70.6 133.7 L70.4 133.2 L70.3 132.7 L70.3 132.2 L70.2 131.7 L70.2 131.2 L70.2 130.8 L70.3 130.4 L70.3 130.0 L70.4 129.6 L70.5 129.2 L70.7 128.9 L70.8 128.6 L71.0 128.3 L71.2 128.1 L71.4 127.9 L71.7 127.7 L80.3 122.7 L80.6 122.6 L80.9 122.5 L81.2 122.5 L81.5 122.4 L81.8 122.5 L82.1 122.5 L82.5 122.6 L82.8 122.7 L83.2 122.9 L83.6 123.1 L83.9 123.3 L84.3 123.6 L84.7 123.9 L85.0 124.2 L85.4 124.6 L85.8 124.9 L86.1 125.3 L86.4 125.8 L86.8 126.2 L87.1 126.7 L87.4 127.2 L87.7 127.6 L87.9 128.2 L88.2 128.7 L88.4 129.2 L88.6 129.7 L88.8 130.2 L89.0 130.8 L89.1 131.3 L89.2 131.8 L89.3 132.3 L89.4 132.8 L89.4 133.3 L89.4 133.8 L89.4 134.2 L89.4 134.6 L89.3 135.0 L89.2 135.4 L89.1 135.8 L89.0 136.1 L88.8 136.4 L88.7 136.7 L88.5 136.9 L88.2 137.1 L88.0 137.3Z" fill="url(#ht)" stroke="#000" stroke-width="1.3" />
<ellipse cx="75.5" cy="135.0" rx="4.2" ry="8.2" transform="rotate(-27.0 75.5 135.0)" fill="url(#ht)" stroke="#000" stroke-width="1.0"/>
<ellipse cx="77.5" cy="134.0" rx="4.2" ry="8.2" transform="rotate(-27.0 77.5 134.0)" fill="none" stroke="#000" stroke-width="0.8"/>
<path d="M69.8 148.2 L69.5 148.3 L69.3 148.4 L69.0 148.4 L68.8 148.4 L68.5 148.4 L68.2 148.4 L67.9 148.3 L67.6 148.2 L67.3 148.1 L67.0 147.9 L66.7 147.7 L66.4 147.5 L66.0 147.2 L65.7 147.0 L65.4 146.7 L65.1 146.3 L64.8 146.0 L64.5 145.6 L64.3 145.2 L64.0 144.8 L63.7 144.4 L63.5 144.0 L63.3 143.6 L63.1 143.1 L62.9 142.7 L62.7 142.3 L62.5 141.8 L62.4 141.4 L62.3 140.9 L62.2 140.5 L62.1 140.0 L62.0 139.6 L62.0 139.2 L62.0 138.8 L62.0 138.4 L62.0 138.1 L62.1 137.7 L62.2 137.4 L62.2 137.1 L62.4 136.8 L62.5 136.5 L62.7 136.3 L62.8 136.1 L63.0 136.0 L63.2 135.8 L70.2 131.8 L70.4 131.7 L70.6 131.6 L70.9 131.6 L71.2 131.6 L71.4 131.6 L71.7 131.6 L72.0 131.7 L72.3 131.8 L72.6 131.9 L72.9 132.1 L73.2 132.3 L73.6 132.5 L73.9 132.8 L74.2 133.0 L74.5 133.3 L74.8 133.7 L75.1 134.0 L75.4 134.4 L75.7 134.8 L75.9 135.2 L76.2 135.6 L76.4 136.0 L76.7 136.4 L76.9 136.9 L77.1 137.3 L77.2 137.7 L77.4 138.2 L77.5 138.6 L77.7 139.1 L77.8 139.5 L77.8 140.0 L77.9 140.4 L77.9 140.8 L77.9 141.2 L77.9 141.6 L77.9 141.9 L77.8 142.3 L77.8 142.6 L77.7 142.9 L77.6 143.2 L77.4 143.5 L77.3 143.7 L77.1 143.9 L76.9 144.0 L76.7 144.2Z" fill="url(#ht)" stroke="#000" stroke-width="1.3" />
<ellipse cx="66.5" cy="142.0" rx="3.6" ry="7.0" transform="rotate(-27.0 66.5 142.0)" fill="url(#ht)" stroke="#000" stroke-width="1.0"/>
<ellipse cx="68.3" cy="141.1" rx="3.6" ry="7.0" transform="rotate(-27.0 68.3 141.1)" fill="none" stroke="#000" stroke-width="0.8"/>
<ellipse cx="66.3" cy="142.2" rx="2.4" ry="4.6" transform="rotate(-27.0 66.3 142.2)" fill="#8a8a8a" stroke="#000" stroke-width="0.9"/>
<path d="M64.8 148.1 L64.7 148.2 L64.6 148.2 L64.4 148.3 L64.3 148.3 L64.2 148.3 L64.0 148.3 L63.9 148.2 L63.7 148.2 L63.5 148.1 L63.4 148.1 L63.2 148.0 L63.1 147.9 L62.9 147.8 L62.8 147.7 L62.6 147.5 L62.5 147.4 L62.3 147.2 L62.2 147.1 L62.1 146.9 L61.9 146.7 L61.8 146.5 L61.7 146.3 L61.6 146.2 L61.5 146.0 L61.4 145.7 L61.3 145.5 L61.3 145.3 L61.2 145.1 L61.2 144.9 L61.1 144.7 L61.1 144.5 L61.1 144.3 L61.1 144.1 L61.1 143.9 L61.1 143.7 L61.1 143.6 L61.2 143.4 L61.2 143.3 L61.3 143.1 L61.3 143.0 L61.4 142.8 L61.5 142.7 L61.6 142.6 L61.7 142.6 L61.8 142.5 L65.3 140.5 L65.4 140.4 L65.5 140.4 L65.6 140.3 L65.8 140.3 L65.9 140.3 L66.1 140.3 L66.2 140.4 L66.4 140.4 L66.5 140.5 L66.7 140.5 L66.8 140.6 L67.0 140.7 L67.1 140.8 L67.3 140.9 L67.4 141.1 L67.6 141.2 L67.7 141.4 L67.9 141.5 L68.0 141.7 L68.1 141.9 L68.2 142.1 L68.4 142.3 L68.5 142.4 L68.6 142.6 L68.6 142.9 L68.7 143.1 L68.8 143.3 L68.9 143.5 L68.9 143.7 L68.9 143.9 L69.0 144.1 L69.0 144.3 L69.0 144.5 L69.0 144.7 L69.0 144.9 L68.9 145.0 L68.9 145.2 L68.9 145.3 L68.8 145.5 L68.7 145.6 L68.7 145.8 L68.6 145.9 L68.5 146.0 L68.4 146.0 L68.3 146.1Z" fill="url(#ht)" stroke="#000" stroke-width="1.3" />
<ellipse cx="63.3" cy="145.3" rx="1.9" ry="3.2" transform="rotate(-27.0 63.3 145.3)" fill="url(#ht)" stroke="#000" stroke-width="1.0"/>
<ellipse cx="63.2" cy="145.4" rx="0.9" ry="1.5" transform="rotate(-27.0 63.2 145.4)" fill="#ddd" stroke="#000" stroke-width="0.7"/>
<line x1="79.0" y1="269.7" x2="86.0" y2="265.7" stroke="#555" stroke-width="0.7" />
<line x1="128.0" y1="241.4" x2="140.0" y2="234.5" stroke="#555" stroke-width="0.7" />
<line x1="150.0" y1="228.7" x2="166.0" y2="219.5" stroke="#555" stroke-width="0.7" />
<line x1="183.0" y1="209.7" x2="197.0" y2="201.6" stroke="#555" stroke-width="0.7" />
<line x1="211.0" y1="193.5" x2="220.0" y2="188.3" stroke="#555" stroke-width="0.7" />
<line x1="236.0" y1="179.1" x2="246.0" y2="173.3" stroke="#555" stroke-width="0.7" />
<line x1="255.0" y1="168.1" x2="279.0" y2="154.2" stroke="#555" stroke-width="0.7" />
<path d="M270.1 204.8 L268.7 205.5 L267.2 206.0 L265.6 206.4 L264.0 206.6 L262.2 206.7 L260.4 206.6 L258.6 206.3 L256.7 205.9 L254.8 205.3 L252.9 204.5 L251.0 203.6 L249.0 202.5 L247.1 201.3 L245.1 200.0 L243.2 198.5 L241.4 196.9 L239.5 195.2 L237.8 193.3 L236.1 191.4 L234.4 189.4 L232.9 187.3 L231.4 185.1 L230.0 182.8 L228.7 180.5 L227.5 178.2 L226.5 175.9 L225.5 173.5 L224.7 171.1 L224.0 168.7 L223.4 166.4 L222.9 164.1 L222.6 161.8 L222.4 159.6 L222.4 157.4 L222.5 155.3 L222.7 153.3 L223.1 151.4 L223.5 149.6 L224.2 147.9 L224.9 146.3 L225.8 144.9 L226.8 143.6 L227.9 142.4 L229.1 141.4 L230.4 140.5 L231.3 140.0 L232.7 139.3 L234.2 138.8 L235.8 138.4 L237.5 138.2 L239.2 138.1 L241.0 138.2 L242.8 138.5 L244.7 138.9 L246.6 139.5 L248.5 140.3 L250.5 141.2 L252.4 142.3 L254.4 143.5 L256.3 144.8 L258.2 146.3 L260.1 147.9 L261.9 149.6 L263.6 151.5 L265.4 153.4 L267.0 155.4 L268.6 157.5 L270.0 159.7 L271.4 162.0 L272.7 164.3 L273.9 166.6 L275.0 168.9 L275.9 171.3 L276.8 173.7 L277.5 176.1 L278.0 178.4 L278.5 180.7 L278.8 183.0 L279.0 185.2 L279.0 187.4 L279.0 189.5 L278.7 191.5 L278.4 193.4 L277.9 195.2 L277.3 196.9 L276.5 198.5 L275.6 199.9 L274.6 201.2 L273.5 202.4 L272.3 203.4 L271.0 204.3Z" fill="#fff" stroke="#222" stroke-width="1.2" />
<path d="M232.5 141.6 L233.9 141.1 L235.3 140.7 L236.9 140.5 L238.5 140.5 L240.1 140.6 L241.8 140.8 L243.6 141.3 L245.4 141.8 L247.2 142.6 L249.0 143.4 L250.8 144.5 L252.7 145.6 L254.5 146.9 L256.3 148.3 L258.0 149.9 L259.8 151.5 L261.4 153.3 L263.1 155.1 L264.6 157.1 L266.1 159.1 L267.5 161.2 L268.9 163.3 L270.1 165.5 L271.2 167.7 L272.3 170.0 L273.2 172.2 L274.0 174.5 L274.7 176.7 L275.3 179.0 L275.7 181.2 L276.1 183.3 L276.3 185.4 L276.3 187.5 L276.3 189.4 L276.1 191.3 L275.8 193.1 L275.4 194.8 L274.8 196.4 L274.1 197.8 L273.3 199.2 L272.4 200.4 L271.4 201.5 L270.3 202.4 L269.0 203.2 L267.7 203.8 L266.3 204.3" fill="none" stroke="#222" stroke-width="0.7" />
<ellipse cx="251.5" cy="172.2" rx="14.9" ry="29.8" transform="rotate(-31.8 251.5 172.2)" fill="none" stroke="#222" stroke-width="1.2"/>
<path d="M260.4 201.7 L259.0 201.6 L257.6 201.3 L256.2 200.9 L254.7 200.4 L253.2 199.7 L251.6 198.9 L250.1 198.0 L248.6 196.9 L247.0 195.8 L245.5 194.5 L244.0 193.1 L242.5 191.7 L241.1 190.1 L239.7 188.5 L238.3 186.7 L237.0 185.0 L235.8 183.1 L234.6 181.2 L233.5 179.3 L232.5 177.4 L231.6 175.4 L230.7 173.4 L230.0 171.4 L229.3 169.4 L228.8 167.5 L228.3 165.6 L227.9 163.7 L227.7 161.8 L227.5 160.0 L227.5 158.3 L227.6 156.7 L227.7 155.1 L228.0 153.6 L228.4 152.2 L228.9 151.0 L229.5 149.8 L230.2 148.7 L231.0 147.8 L231.8 147.0 L232.8 146.3 L233.8 145.7 L234.9 145.3 L236.1 145.0 L237.4 144.9 L238.7 144.9" fill="none" stroke="#222" stroke-width="0.7" />
<line x1="232.0" y1="181.4" x2="237.3" y2="178.3" stroke="#555" stroke-width="0.7" />
<line x1="242.0" y1="175.6" x2="243.5" y2="174.7" stroke="#555" stroke-width="0.7" />
<line x1="248.0" y1="172.1" x2="263.3" y2="163.3" stroke="#555" stroke-width="0.7" />
<line x1="263.3" y1="201.5" x2="263.3" y2="275.5" stroke="#777" stroke-width="1.0" />
<g class="t"><text x="263.5" y="290.0" font-size="13" text-anchor="middle">68</text></g>
<path d="M220.2 230.0 L218.9 230.6 L217.6 231.0 L216.3 231.3 L214.8 231.5 L213.3 231.5 L211.8 231.3 L210.1 231.0 L208.5 230.6 L206.8 230.0 L205.1 229.3 L203.4 228.4 L201.6 227.4 L199.9 226.2 L198.2 224.9 L196.5 223.5 L194.8 222.0 L193.2 220.4 L191.6 218.7 L190.0 216.9 L188.5 215.0 L187.1 213.1 L185.8 211.1 L184.5 209.0 L183.3 206.9 L182.2 204.7 L181.2 202.6 L180.3 200.4 L179.5 198.2 L178.8 196.1 L178.2 193.9 L177.8 191.8 L177.4 189.8 L177.2 187.7 L177.1 185.8 L177.1 183.9 L177.3 182.1 L177.5 180.4 L177.9 178.8 L178.4 177.2 L179.0 175.8 L179.7 174.6 L180.5 173.4 L181.5 172.4 L182.5 171.5 L183.6 170.7 L192.0 165.8 L193.1 165.3 L194.3 164.9 L195.6 164.6 L196.9 164.5 L198.4 164.6 L199.8 164.8 L201.4 165.1 L202.9 165.6 L204.6 166.2 L206.2 167.0 L207.8 167.9 L209.5 169.0 L211.2 170.2 L212.9 171.5 L214.5 172.9 L216.1 174.4 L217.8 176.1 L219.3 177.8 L220.8 179.6 L222.3 181.5 L223.7 183.4 L225.1 185.5 L226.4 187.5 L227.6 189.6 L228.7 191.8 L229.7 193.9 L230.6 196.1 L231.5 198.2 L232.2 200.4 L232.8 202.5 L233.3 204.5 L233.7 206.6 L234.0 208.6 L234.2 210.5 L234.3 212.3 L234.2 214.1 L234.0 215.8 L233.7 217.3 L233.3 218.8 L232.8 220.1 L232.2 221.4 L231.4 222.5 L230.6 223.4 L229.7 224.3 L228.6 225.0Z" fill="#fff" stroke="#222" stroke-width="1.2" />
<ellipse cx="201.9" cy="200.3" rx="19.4" ry="34.8" transform="rotate(-32.4 201.9 200.3)" fill="#fff" stroke="#222" stroke-width="1.2"/>
<ellipse cx="201.9" cy="200.3" rx="17.8" ry="32.8" transform="rotate(-32.4 201.9 200.3)" fill="none" stroke="#222" stroke-width="0.7"/>
<ellipse cx="204.3" cy="199.2" rx="17.6" ry="28.9" transform="rotate(-31.6 204.3 199.2)" fill="none" stroke="#222" stroke-width="0.7"/>
<ellipse cx="204.3" cy="199.2" rx="16.4" ry="27.7" transform="rotate(-31.6 204.3 199.2)" fill="none" stroke="#222" stroke-width="1.8"/>
<ellipse cx="204.8" cy="199.0" rx="14.4" ry="25.7" transform="rotate(-31.6 204.8 199.0)" fill="none" stroke="#222" stroke-width="0.7"/>
<path d="M216.3 217.3 L215.3 217.1 L214.2 216.7 L213.1 216.3 L211.9 215.7 L210.8 215.1 L209.6 214.3 L208.4 213.5 L207.3 212.6 L206.2 211.6 L205.0 210.5 L203.9 209.3 L202.9 208.1 L201.8 206.8 L200.8 205.5 L199.9 204.1 L199.0 202.7 L198.1 201.2 L197.3 199.8 L196.6 198.3 L195.9 196.8 L195.3 195.3 L194.8 193.8 L194.3 192.3 L193.9 190.8 L193.6 189.3 L193.4 187.9 L193.3 186.6 L193.2 185.3 L193.3 184.0 L193.4 182.8 L193.6 181.7 L193.8 180.6 L194.2 179.6 L194.6 178.7 L195.1 177.9 L195.7 177.2 L196.3 176.6 L197.1 176.1 L197.8 175.6 L198.7 175.3 L199.6 175.1 L200.5 175.0 L201.5 175.0" fill="none" stroke="#222" stroke-width="1.2" />
<path d="M211.9 217.5 L210.8 217.0 L209.7 216.4 L208.5 215.8 L207.3 215.0 L206.2 214.1 L205.0 213.1 L203.9 212.1 L202.8 210.9 L201.7 209.8 L200.6 208.5 L199.6 207.2 L198.6 205.8 L197.7 204.4 L196.8 203.0 L196.0 201.5 L195.2 200.0 L194.5 198.5 L193.9 197.0 L193.3 195.5 L192.8 194.0 L192.4 192.5 L192.1 191.1 L191.8 189.6 L191.6 188.2 L191.5 186.9 L191.5 185.6 L191.6 184.4 L191.7 183.2 L192.0 182.1 L192.3 181.1 L192.7 180.1 L193.1 179.3 L193.7 178.5 L194.3 177.9 L195.0 177.3 L195.7 176.8 L196.5 176.5 L197.4 176.2" fill="none" stroke="#222" stroke-width="0.7" />
<line x1="190.0" y1="205.6" x2="208.0" y2="195.2" stroke="#555" stroke-width="0.7" />
<line x1="219.0" y1="229.0" x2="219.0" y2="275.5" stroke="#777" stroke-width="1.0" />
<g class="t"><text x="219.0" y="290.0" font-size="13" text-anchor="middle">32</text></g>
<path d="M163.4 261.4 L162.1 262.1 L160.7 262.6 L159.2 263.0 L157.7 263.2 L156.1 263.2 L154.5 263.2 L152.8 262.9 L151.1 262.5 L149.4 262.0 L147.6 261.3 L145.9 260.5 L144.1 259.5 L142.4 258.4 L140.7 257.2 L139.0 255.8 L137.3 254.3 L135.7 252.8 L134.1 251.1 L132.6 249.3 L131.2 247.5 L129.8 245.5 L128.5 243.5 L127.3 241.5 L126.2 239.4 L125.2 237.2 L124.2 235.1 L123.4 232.9 L122.7 230.7 L122.2 228.5 L121.7 226.4 L121.3 224.2 L121.1 222.1 L121.0 220.1 L121.0 218.1 L121.2 216.2 L121.4 214.3 L121.8 212.6 L122.3 210.9 L122.9 209.4 L123.7 207.9 L124.5 206.6 L125.4 205.4 L126.5 204.3 L127.6 203.3 L128.8 202.5 L144.9 193.1 L146.2 192.4 L147.5 192.0 L148.9 191.6 L150.4 191.4 L151.9 191.4 L153.5 191.5 L155.1 191.8 L156.7 192.2 L158.4 192.8 L160.1 193.5 L161.8 194.4 L163.5 195.4 L165.2 196.5 L166.9 197.7 L168.6 199.1 L170.2 200.6 L171.8 202.2 L173.3 203.9 L174.8 205.7 L176.3 207.5 L177.6 209.5 L178.9 211.5 L180.1 213.5 L181.2 215.6 L182.3 217.8 L183.2 219.9 L184.0 222.1 L184.7 224.3 L185.4 226.4 L185.9 228.6 L186.2 230.7 L186.5 232.7 L186.6 234.8 L186.7 236.7 L186.6 238.6 L186.4 240.4 L186.0 242.2 L185.6 243.8 L185.0 245.3 L184.4 246.7 L183.6 248.0 L182.7 249.2 L181.7 250.3 L180.7 251.2 L179.5 251.9Z" fill="#fff" stroke="#222" stroke-width="1.2" />
<ellipse cx="146.1" cy="232.0" rx="21.1" ry="34.1" transform="rotate(-30.6 146.1 232.0)" fill="#fff" stroke="#222" stroke-width="1.2"/>
<ellipse cx="146.1" cy="232.0" rx="19.5" ry="32.1" transform="rotate(-30.6 146.1 232.0)" fill="none" stroke="#222" stroke-width="0.7"/>
<ellipse cx="147.2" cy="232.5" rx="17.4" ry="29.5" transform="rotate(-29.7 147.2 232.5)" fill="none" stroke="#222" stroke-width="1.2"/>
<clipPath id="c31"><ellipse cx="147.2" cy="232.5" rx="17.4" ry="29.5" transform="rotate(-29.7 147.2 232.5)"/></clipPath><g clip-path="url(#c31)">
<line x1="159.0" y1="259.2" x2="172.8" y2="251.2" stroke="#333" stroke-width="0.9" />
<line x1="155.9" y1="259.5" x2="169.8" y2="251.5" stroke="#333" stroke-width="0.5" />
<line x1="152.7" y1="259.1" x2="166.5" y2="251.1" stroke="#333" stroke-width="0.9" />
<line x1="149.2" y1="257.9" x2="163.1" y2="249.9" stroke="#333" stroke-width="0.5" />
<line x1="145.7" y1="256.0" x2="159.6" y2="248.0" stroke="#333" stroke-width="0.9" />
<line x1="142.3" y1="253.5" x2="156.2" y2="245.5" stroke="#333" stroke-width="0.5" />
<line x1="139.0" y1="250.4" x2="152.8" y2="242.4" stroke="#333" stroke-width="0.9" />
<line x1="135.9" y1="246.8" x2="149.8" y2="238.8" stroke="#333" stroke-width="0.5" />
<line x1="133.1" y1="242.8" x2="147.0" y2="234.8" stroke="#333" stroke-width="0.9" />
<line x1="130.8" y1="238.5" x2="144.6" y2="230.5" stroke="#333" stroke-width="0.5" />
<line x1="128.8" y1="234.1" x2="142.7" y2="226.1" stroke="#333" stroke-width="0.9" />
<line x1="127.4" y1="229.6" x2="141.3" y2="221.6" stroke="#333" stroke-width="0.5" />
<line x1="126.5" y1="225.2" x2="140.4" y2="217.2" stroke="#333" stroke-width="0.9" />
<line x1="126.3" y1="221.0" x2="140.1" y2="213.0" stroke="#333" stroke-width="0.5" />
<line x1="126.5" y1="217.1" x2="140.4" y2="209.1" stroke="#333" stroke-width="0.9" />
<line x1="127.4" y1="213.7" x2="141.2" y2="205.7" stroke="#333" stroke-width="0.5" />
<line x1="128.8" y1="210.7" x2="142.6" y2="202.7" stroke="#333" stroke-width="0.9" />
<line x1="130.7" y1="208.4" x2="144.5" y2="200.4" stroke="#333" stroke-width="0.5" />
<line x1="133.1" y1="206.7" x2="146.9" y2="198.7" stroke="#333" stroke-width="0.9" />
<line x1="135.8" y1="205.7" x2="149.7" y2="197.7" stroke="#333" stroke-width="0.5" />
<line x1="138.9" y1="205.5" x2="152.7" y2="197.5" stroke="#333" stroke-width="0.9" />
<line x1="142.2" y1="206.0" x2="156.0" y2="198.0" stroke="#333" stroke-width="0.5" />
<path d="M144.7 205.0 L145.4 204.6 L146.2 204.4 L147.1 204.2 L148.0 204.2 L149.0 204.3 L150.0 204.5 L151.0 204.8 L152.1 205.3 L153.2 205.8 L154.3 206.4 L155.4 207.2 L156.6 208.0 L157.7 209.0 L158.9 210.0 L160.0 211.1 L161.2 212.3 L162.3 213.6 L163.4 214.9 L164.4 216.3 L165.4 217.8 L166.4 219.3 L167.4 220.8 L168.3 222.4 L169.1 224.0 L169.9 225.6 L170.6 227.2 L171.3 228.9 L171.9 230.5 L172.4 232.1 L172.9 233.7 L173.3 235.2 L173.6 236.7 L173.8 238.2 L173.9 239.6 L174.0 241.0 L174.0 242.3 L173.9 243.5 L173.7 244.6 L173.4 245.7 L173.1 246.7 L172.7 247.6 L172.2 248.3 L171.7 249.0 L171.0 249.6 L170.3 250.0 L169.6 250.4 L168.8 250.6 L167.9 250.8 L167.0 250.8 L166.0 250.7 L165.0 250.5 L164.0 250.2 L162.9 249.7 L161.8 249.2 L160.7 248.6 L159.6 247.8 L158.4 247.0 L157.3 246.0 L156.1 245.0 L155.0 243.9 L153.8 242.7 L152.7 241.4 L151.6 240.1 L150.6 238.7 L149.6 237.2 L148.6 235.7 L147.6 234.2 L146.7 232.6 L145.9 231.0 L145.1 229.4 L144.4 227.8 L143.7 226.1 L143.1 224.5 L142.6 222.9 L142.1 221.3 L141.7 219.8 L141.4 218.3 L141.2 216.8 L141.1 215.4 L141.0 214.0 L141.0 212.7 L141.1 211.5 L141.3 210.4 L141.6 209.3 L141.9 208.3 L142.3 207.4 L142.8 206.7 L143.3 206.0 L144.0 205.4 L144.7 205.0Z" fill="#fff" stroke="#222" stroke-width="0" />
<path d="M169.4 250.5 L168.6 250.7 L167.7 250.8 L166.8 250.8 L165.8 250.7 L164.8 250.4 L163.7 250.1 L162.6 249.6 L161.5 249.0 L160.4 248.3 L159.2 247.6 L158.1 246.7 L156.9 245.7 L155.8 244.6 L154.6 243.5 L153.5 242.3 L152.4 241.0 L151.3 239.6 L150.2 238.2 L149.2 236.7 L148.2 235.2 L147.3 233.6 L146.4 232.0 L145.6 230.4 L144.8 228.8 L144.1 227.2 L143.5 225.5 L142.9 223.9 L142.4 222.3 L142.0 220.7 L141.6 219.2 L141.3 217.7 L141.2 216.2 L141.0 214.8 L141.0 213.5 L141.1 212.2 L141.2 211.0 L141.4 209.9 L141.7 208.9 L142.1 207.9 L142.5 207.1 L143.0 206.3 L143.6 205.7 L144.3 205.2 L145.0 204.8 L145.8 204.5 L146.6 204.3 L147.5 204.2 L148.5 204.2 L149.4 204.4 L150.5 204.7 L151.5 205.0" fill="none" stroke="#222" stroke-width="1.4" />
<path d="M160.8 257.0 L159.6 257.2 L158.4 257.3 L157.1 257.2 L155.8 257.0 L154.4 256.7 L153.0 256.3 L151.6 255.7 L150.2 255.0 L148.8 254.2 L147.4 253.3 L146.0 252.2 L144.6 251.1 L143.3 249.8 L141.9 248.5 L140.6 247.1 L139.4 245.6 L138.2 244.0 L137.1 242.4 L136.0 240.7 L135.0 239.0 L134.0 237.2 L133.2 235.4 L132.4 233.6 L131.7 231.8 L131.1 229.9 L130.5 228.1 L130.1 226.3 L129.8 224.5 L129.6 222.8 L129.4 221.0 L129.4 219.4 L129.4 217.8 L129.6 216.2 L129.9 214.8 L130.2 213.4 L130.7 212.1 L131.2 210.9 L131.9 209.8 L132.6 208.8 L133.4 208.0 L134.3 207.2 L135.3 206.6 L136.3 206.0 L137.4 205.7 L138.6 205.4 L139.8 205.3 L141.0 205.2" fill="none" stroke="#444" stroke-width="0.6" />
</g>
<line x1="150.0" y1="228.7" x2="166.0" y2="219.5" stroke="#555" stroke-width="0.7" />
<line x1="168.7" y1="258.5" x2="168.7" y2="278.5" stroke="#777" stroke-width="1.0" />
<g class="t"><text x="170.0" y="290.0" font-size="13" text-anchor="middle">31</text></g>
<ellipse cx="109.0" cy="254.2" rx="18.6" ry="28.1" transform="rotate(-31.8 109.0 254.2)" fill="#fff" stroke="#222" stroke-width="1.2"/>
<path d="M96.0 230.7 L97.2 230.5 L98.4 230.3 L99.6 230.3 L100.9 230.5 L102.2 230.7 L103.6 231.1 L105.0 231.5 L106.4 232.1 L107.8 232.8 L109.2 233.7 L110.6 234.6 L111.9 235.6 L113.3 236.7 L114.6 237.9 L115.9 239.2 L117.2 240.6 L118.4 242.0 L119.5 243.6 L120.6 245.1 L121.6 246.7 L122.6 248.4 L123.5 250.1 L124.3 251.8 L125.0 253.5 L125.6 255.2 L126.2 257.0 L126.6 258.7 L127.0 260.4 L127.3 262.1 L127.4 263.7 L127.5 265.3 L127.5 266.9 L127.4 268.3 L127.1 269.8 L126.8 271.1 L126.4 272.4 L125.9 273.5 L125.3 274.6 L124.6 275.6 L123.8 276.5 L123.0 277.3 L122.1 277.9 L121.1 278.5 L120.0 278.9 L118.9 279.2 L117.7 279.4 L116.4 279.5" fill="none" stroke="#222" stroke-width="0.7" />
<path d="M94.9 232.5 L96.0 232.3 L97.0 232.2 L98.2 232.3 L99.3 232.4 L100.5 232.7 L101.8 233.1 L103.0 233.6 L104.3 234.2 L105.6 234.9 L106.9 235.8 L108.2 236.7 L109.5 237.7 L110.7 238.8 L112.0 240.0 L113.2 241.3 L114.4 242.6 L115.5 244.0 L116.6 245.5 L117.6 247.0 L118.6 248.5 L119.6 250.1 L120.4 251.7 L121.2 253.4 L121.9 255.0 L122.6 256.7 L123.1 258.3 L123.6 260.0 L124.0 261.6 L124.3 263.2 L124.5 264.7 L124.6 266.2 L124.7 267.6 L124.6 269.0 L124.5 270.4 L124.2 271.6 L123.9 272.8 L123.5 273.9 L123.0 274.9 L122.4 275.8 L121.8 276.6 L121.0 277.2 L120.2 277.8 L119.3 278.3 L118.4 278.7 L117.4 278.9 L116.3 279.1 L115.2 279.1" fill="none" stroke="#222" stroke-width="0.7" />
<ellipse cx="107.5" cy="255.2" rx="16.2" ry="23.1" transform="rotate(-28.2 107.5 255.2)" fill="none" stroke="#222" stroke-width="0.7"/>
<ellipse cx="103.7" cy="257.1" rx="12.0" ry="16.4" transform="rotate(-15.4 103.7 257.1)" fill="none" stroke="#222" stroke-width="1.2"/>
<ellipse cx="103.7" cy="257.8" rx="7.6" ry="11.3" transform="rotate(-23.9 103.7 257.8)" fill="none" stroke="#222" stroke-width="1.2"/>
<path d="M108.6 264.2 L108.1 264.0 L107.6 263.8 L107.1 263.5 L106.7 263.2 L106.2 262.9 L105.7 262.5 L105.3 262.1 L104.8 261.6 L104.4 261.1 L104.0 260.6 L103.6 260.0 L103.3 259.5 L102.9 258.9 L102.6 258.3 L102.3 257.6 L102.1 257.0 L101.8 256.3 L101.6 255.7 L101.5 255.0 L101.3 254.4 L101.2 253.7 L101.1 253.1 L101.1 252.5 L101.1 251.9 L101.1 251.3 L101.2 250.7 L101.3 250.1 L101.4 249.6 L101.6 249.1 L101.8 248.6 L102.0 248.2 L102.3 247.8 L102.6 247.4 L102.9 247.1 L103.3 246.8 L103.6 246.5 L104.0 246.3 L104.4 246.2 L104.8 246.1 L105.3 246.0 L105.7 246.0 L106.2 246.0" fill="none" stroke="#222" stroke-width="0.7" />
<line x1="99.0" y1="258.2" x2="108.0" y2="253.0" stroke="#555" stroke-width="0.7" />
<line x1="99.5" y1="216.5" x2="99.5" y2="236.0" stroke="#777" stroke-width="1.0" />
<g class="t"><text x="100.4" y="215.0" font-size="13" text-anchor="middle">30</text></g>
<path d="M357.0 143.0 L355.7 143.6 L354.4 144.2 L353.0 144.6 L351.5 144.8 L350.0 145.0 L348.5 145.0 L346.9 144.9 L345.3 144.7 L343.7 144.3 L342.1 143.8 L340.4 143.2 L338.8 142.5 L337.2 141.6 L335.6 140.7 L334.1 139.6 L332.6 138.4 L331.1 137.2 L329.7 135.8 L328.4 134.4 L327.1 132.9 L325.9 131.3 L324.8 129.6 L323.7 127.9 L322.8 126.1 L321.9 124.4 L321.1 122.5 L320.5 120.7 L319.9 118.8 L319.5 117.0 L319.1 115.1 L318.9 113.3 L318.8 111.5 L318.8 109.7 L318.9 108.0 L319.1 106.3 L319.4 104.7 L319.9 103.2 L320.4 101.7 L321.1 100.3 L321.9 99.0 L322.7 97.8 L323.7 96.7 L324.7 95.7 L325.8 94.8 L327.0 94.0 L367.7 66.4 L368.3 66.1 L369.1 65.9 L369.9 65.9 L370.8 65.9 L371.7 66.1 L372.7 66.4 L373.8 66.9 L374.9 67.4 L376.0 68.1 L377.2 68.8 L378.4 69.7 L379.6 70.7 L380.9 71.8 L382.1 73.0 L383.4 74.3 L384.7 75.6 L385.9 77.1 L387.2 78.6 L388.4 80.1 L389.6 81.8 L390.8 83.4 L391.9 85.1 L393.0 86.9 L394.1 88.6 L395.1 90.4 L396.0 92.2 L396.9 93.9 L397.7 95.7 L398.5 97.4 L399.1 99.1 L399.7 100.8 L400.3 102.4 L400.7 104.0 L401.0 105.5 L401.3 106.9 L401.5 108.3 L401.6 109.5 L401.6 110.7 L401.5 111.8 L401.3 112.8 L401.0 113.7 L400.7 114.4 L400.2 115.1 L399.7 115.7 L399.1 116.1Z" fill="#fff" stroke="#222" stroke-width="1.2" />
<ellipse cx="342.0" cy="118.5" rx="20.5" ry="28.7" transform="rotate(-33.0 342.0 118.5)" fill="#fff" stroke="#222" stroke-width="1.2"/>
<path d="M325.7 96.5 L326.8 95.7 L328.0 95.0 L329.2 94.4 L330.5 93.9 L331.8 93.6 L333.2 93.4 L334.6 93.3 L336.1 93.3 L337.6 93.5 L339.1 93.8 L340.7 94.2 L342.2 94.7 L343.8 95.4 L345.3 96.2 L346.8 97.0 L348.3 98.0 L349.8 99.1 L351.2 100.3 L352.6 101.6 L353.9 102.9 L355.2 104.4 L356.4 105.9 L357.5 107.5 L358.5 109.1 L359.5 110.8 L360.4 112.5 L361.2 114.2 L361.9 116.0 L362.5 117.8 L362.9 119.6 L363.3 121.4 L363.6 123.1 L363.8 124.9 L363.8 126.6 L363.8 128.2 L363.6 129.9 L363.4 131.4 L363.0 132.9 L362.5 134.3 L361.9 135.7 L361.2 137.0 L360.5 138.1 L359.6 139.2 L358.6 140.2 L357.6 141.0 L356.5 141.8 L355.3 142.4 L354.0 142.9 L352.7 143.3 L351.3 143.5 L349.9 143.7 L348.4 143.7 L347.0 143.6" fill="none" stroke="#222" stroke-width="0.7" />
<path d="M316.6 150.1 L315.8 150.5 L315.0 150.8 L314.1 151.0 L313.2 151.1 L312.2 151.1 L311.2 151.1 L310.2 150.9 L309.1 150.6 L308.1 150.3 L307.0 149.8 L305.9 149.3 L304.8 148.7 L303.7 148.0 L302.6 147.3 L301.5 146.4 L300.4 145.5 L299.4 144.5 L298.4 143.5 L297.4 142.4 L296.4 141.3 L295.5 140.1 L294.7 138.8 L293.8 137.6 L293.1 136.3 L292.4 135.0 L291.8 133.6 L291.2 132.3 L290.7 131.0 L290.2 129.7 L289.9 128.3 L289.6 127.0 L289.4 125.8 L289.2 124.5 L289.2 123.3 L289.2 122.1 L289.3 121.0 L289.5 120.0 L289.7 118.9 L290.0 118.0 L290.4 117.1 L290.9 116.3 L291.4 115.6 L292.0 115.0 L292.7 114.4 L293.4 113.9 L331.5 91.2 L332.4 90.7 L333.4 90.3 L334.4 90.0 L335.4 89.9 L336.5 89.8 L337.6 89.8 L338.8 89.9 L340.0 90.1 L341.1 90.4 L342.3 90.8 L343.5 91.3 L344.7 91.9 L345.9 92.6 L347.0 93.3 L348.2 94.2 L349.3 95.1 L350.3 96.1 L351.4 97.1 L352.4 98.3 L353.3 99.4 L354.2 100.7 L355.1 101.9 L355.9 103.3 L356.6 104.6 L357.2 106.0 L357.8 107.4 L358.3 108.8 L358.7 110.2 L359.1 111.6 L359.3 113.0 L359.5 114.4 L359.6 115.8 L359.7 117.1 L359.6 118.4 L359.5 119.7 L359.2 120.9 L358.9 122.0 L358.5 123.1 L358.1 124.2 L357.5 125.2 L356.9 126.1 L356.3 126.9 L355.5 127.6 L354.7 128.3 L353.8 128.8Z" fill="#fff" stroke="#222" stroke-width="0" />
<path d="M331.5 91.2 L332.4 90.7 L333.4 90.3 L334.4 90.0 L335.4 89.9 L336.5 89.8 L337.6 89.8 L338.8 89.9 L340.0 90.1 L341.1 90.4 L342.3 90.8 L343.5 91.3 L344.7 91.9 L345.9 92.6 L347.0 93.3 L348.2 94.2 L349.3 95.1 L350.3 96.1 L351.4 97.1 L352.4 98.3 L353.3 99.4 L354.2 100.7 L355.1 101.9 L355.9 103.3 L356.6 104.6 L357.2 106.0 L357.8 107.4 L358.3 108.8 L358.7 110.2 L359.1 111.6 L359.3 113.0 L359.5 114.4 L359.6 115.8 L359.7 117.1 L359.6 118.4 L359.5 119.7 L359.2 120.9 L358.9 122.0 L358.5 123.1 L358.1 124.2 L357.5 125.2 L356.9 126.1 L356.3 126.9 L355.5 127.6 L354.7 128.3 L353.8 128.8" fill="none" stroke="#222" stroke-width="1.1" />
<line x1="316.6" y1="150.1" x2="353.8" y2="128.8" stroke="#222" stroke-width="1.2" />
<line x1="293.4" y1="113.9" x2="331.5" y2="91.2" stroke="#222" stroke-width="1.2" />
<ellipse cx="305.0" cy="132.0" rx="12.4" ry="21.5" transform="rotate(-34.0 305.0 132.0)" fill="#fff" stroke="#222" stroke-width="1.2"/>
<path d="M301.9 111.8 L302.9 112.1 L304.0 112.4 L305.1 112.9 L306.2 113.4 L307.3 114.0 L308.4 114.7 L309.5 115.4 L310.6 116.3 L311.7 117.2 L312.7 118.1 L313.7 119.2 L314.7 120.3 L315.7 121.4 L316.6 122.6 L317.4 123.8 L318.3 125.1 L319.0 126.4 L319.7 127.7 L320.4 129.0 L320.9 130.3 L321.4 131.7 L321.9 133.0 L322.3 134.3 L322.5 135.6 L322.8 136.9 L322.9 138.1 L323.0 139.4 L323.0 140.5 L322.9 141.6 L322.7 142.7 L322.5 143.7 L322.2 144.7 L321.8 145.6 L321.3 146.4 L320.8 147.1 L320.2 147.8 L319.5 148.3" fill="none" stroke="#222" stroke-width="0.7" />
<path d="M327.0 94.1 L328.3 93.4 L329.6 92.9 L331.0 92.4 L332.4 92.2 L333.9 92.0 L335.5 92.0 L337.1 92.1 L338.7 92.3 L340.3 92.7 L341.9 93.1 L343.5 93.7 L345.1 94.5 L346.7 95.3 L348.3 96.3 L349.8 97.3 L351.3 98.5 L352.8 99.8 L354.2 101.1 L355.6 102.6 L356.8 104.1 L358.1 105.7 L359.2 107.3 L360.2 109.0 L361.2 110.8 L362.1 112.6 L362.8 114.4 L363.5 116.2 L364.1 118.1 L364.5 119.9 L364.9 121.8 L365.1 123.6 L365.2 125.4 L365.2 127.2 L365.1 128.9 L364.9 130.6 L364.6 132.2 L364.1 133.8 L363.6 135.2 L362.9 136.6 L362.2 137.9 L361.3 139.2 L360.4 140.3 L359.3 141.3 L358.2 142.2 L357.0 142.9 L355.7 143.6 L354.4 144.1 L353.0 144.6 L351.6 144.8 L350.1 145.0 L348.5 145.0 L346.9 144.9 L345.3 144.7 L343.7 144.3" fill="none" stroke="#222" stroke-width="0.9" />
<path d="M327.6 95.2 L328.8 94.6 L330.1 94.1 L331.4 93.7 L332.7 93.4 L334.1 93.3 L335.6 93.3 L337.0 93.4 L338.5 93.7 L340.1 94.0 L341.6 94.5 L343.1 95.1 L344.6 95.8 L346.1 96.6 L347.6 97.5 L349.1 98.6 L350.5 99.7 L351.9 100.9 L353.2 102.2 L354.5 103.6 L355.7 105.1 L356.9 106.6 L357.9 108.2 L358.9 109.8 L359.9 111.5 L360.7 113.2 L361.4 114.9 L362.1 116.6 L362.6 118.4 L363.1 120.2 L363.4 121.9 L363.7 123.6 L363.8 125.3 L363.8 127.0 L363.8 128.7 L363.6 130.2 L363.3 131.8 L362.9 133.2 L362.4 134.6 L361.8 135.9 L361.1 137.2 L360.3 138.3 L359.5 139.3 L358.5 140.3 L357.5 141.1 L356.4 141.8 L355.2 142.4 L353.9 142.9 L352.6 143.3 L351.3 143.6 L349.9 143.7 L348.4 143.7 L347.0 143.6" fill="none" stroke="#222" stroke-width="0.7" />
<path d="M287.1 164.6 L286.6 164.8 L286.1 165.0 L285.6 165.1 L285.0 165.1 L284.5 165.1 L283.9 165.1 L283.3 165.0 L282.7 164.8 L282.1 164.5 L281.5 164.2 L280.9 163.9 L280.3 163.5 L279.7 163.0 L279.1 162.5 L278.5 161.9 L277.9 161.3 L277.3 160.7 L276.8 160.0 L276.3 159.3 L275.8 158.5 L275.3 157.7 L274.9 156.9 L274.5 156.1 L274.1 155.3 L273.8 154.4 L273.5 153.5 L273.2 152.7 L273.0 151.8 L272.8 150.9 L272.7 150.1 L272.6 149.2 L272.5 148.4 L272.5 147.6 L272.6 146.8 L272.6 146.1 L272.7 145.4 L272.9 144.7 L273.1 144.0 L273.3 143.4 L273.6 142.9 L273.9 142.4 L274.3 141.9 L274.7 141.5 L275.1 141.1 L275.5 140.8 L299.3 127.1 L299.7 126.9 L300.2 126.7 L300.8 126.6 L301.3 126.6 L301.9 126.6 L302.4 126.6 L303.0 126.7 L303.6 126.9 L304.2 127.2 L304.8 127.5 L305.5 127.8 L306.1 128.2 L306.7 128.7 L307.3 129.2 L307.9 129.8 L308.4 130.4 L309.0 131.0 L309.5 131.7 L310.0 132.4 L310.5 133.2 L311.0 134.0 L311.4 134.8 L311.8 135.6 L312.2 136.4 L312.5 137.3 L312.8 138.2 L313.1 139.0 L313.3 139.9 L313.5 140.8 L313.6 141.6 L313.7 142.5 L313.8 143.3 L313.8 144.1 L313.8 144.9 L313.7 145.6 L313.6 146.3 L313.4 147.0 L313.2 147.7 L313.0 148.3 L312.7 148.8 L312.4 149.3 L312.1 149.8 L311.7 150.2 L311.3 150.6 L310.8 150.9Z" fill="#fff" stroke="#222" stroke-width="1.2" />
<ellipse cx="281.3" cy="152.7" rx="7.6" ry="13.2" transform="rotate(-24.0 281.3 152.7)" fill="#fff" stroke="#222" stroke-width="1.2"/>
<path d="M278.5 139.3 L279.0 139.2 L279.5 139.2 L280.1 139.2 L280.7 139.2 L281.3 139.4 L281.9 139.6 L282.5 139.8 L283.1 140.1 L283.7 140.5 L284.3 140.9 L284.9 141.4 L285.5 141.9 L286.1 142.4 L286.7 143.1 L287.2 143.7 L287.8 144.4 L288.3 145.1 L288.8 145.9 L289.2 146.7 L289.7 147.5 L290.1 148.3 L290.4 149.1 L290.8 150.0 L291.0 150.9 L291.3 151.7 L291.5 152.6 L291.7 153.5 L291.8 154.3 L291.9 155.2 L292.0 156.0 L292.0 156.8 L291.9 157.6 L291.9 158.3 L291.7 159.0 L291.6 159.7 L291.4 160.3 L291.1 160.9 L290.9 161.5 L290.5 162.0 L290.2 162.4 L289.8 162.8 L289.4 163.2 L288.9 163.5 L288.5 163.7 L287.9 163.9" fill="none" stroke="#222" stroke-width="0.7" />
<path d="M279.7 138.6 L280.2 138.5 L280.7 138.5 L281.3 138.5 L281.9 138.5 L282.5 138.7 L283.1 138.9 L283.7 139.1 L284.3 139.4 L284.9 139.8 L285.5 140.2 L286.1 140.7 L286.7 141.2 L287.3 141.7 L287.9 142.4 L288.4 143.0 L289.0 143.7 L289.5 144.4 L290.0 145.2 L290.4 146.0 L290.9 146.8 L291.3 147.6 L291.6 148.4 L292.0 149.3 L292.3 150.2 L292.5 151.0 L292.7 151.9 L292.9 152.8 L293.0 153.6 L293.1 154.5 L293.2 155.3 L293.2 156.1 L293.2 156.9 L293.1 157.6 L293.0 158.3 L292.8 159.0 L292.6 159.6 L292.4 160.2 L292.1 160.8 L291.8 161.3 L291.4 161.7 L291.0 162.1 L290.6 162.5 L290.1 162.8 L289.7 163.0 L289.2 163.2" fill="none" stroke="#222" stroke-width="0.7" />
<ellipse cx="281.4" cy="154.0" rx="1.0" ry="1.4" transform="rotate(-32.0 281.4 154.0)" fill="none" stroke="#222" stroke-width="0.8"/>
<line x1="270.0" y1="159.4" x2="280.0" y2="153.7" stroke="#555" stroke-width="0.7" />
<line x1="303.3" y1="91.0" x2="303.3" y2="114.5" stroke="#777" stroke-width="1.0" />
<g class="t"><text x="303.0" y="87.5" font-size="13" text-anchor="middle">33</text></g>
<g class="t"><text x="255.6" y="124.2" font-size="13.5" text-anchor="middle">(</text></g>
<g class="t"><text x="267.3" y="124.2" font-size="13.5" text-anchor="middle">)</text></g>
<line x1="257.7" y1="121.0" x2="264.9" y2="121.0" stroke="#111" stroke-width="0.9" />
<line x1="258.8" y1="118.5" x2="263.8" y2="123.5" stroke="#111" stroke-width="0.9" />
<line x1="261.3" y1="117.4" x2="261.3" y2="124.6" stroke="#111" stroke-width="0.9" />
<line x1="263.8" y1="118.5" x2="258.8" y2="123.5" stroke="#111" stroke-width="0.9" />
<ellipse cx="261.3" cy="121.0" rx="1.3" ry="1.3" transform="rotate(0.0 261.3 121.0)" fill="#111" stroke="#111" stroke-width="0.1"/>
<path d="M261.3 128.3 C261.3 135 262.5 139 267.4 143.2" fill="none" stroke="#333" stroke-width="0.8" />
<path d="M271 146.1 L266.3 144.6 L268.7 142 Z" fill="#222" stroke="#222" stroke-width="0.6" />
<path d="M397 85 L412.5 76.5 L412.5 141.5 L299.8 200.5 L299.8 311.5 L316 303" fill="none" stroke="#444" stroke-width="0.8" stroke-dasharray="24 3 2 3"/>
<ellipse cx="512.6" cy="188.2" rx="45.9" ry="79.9" transform="rotate(-29.7 512.6 188.2)" fill="#fff" stroke="#222" stroke-width="1.2"/>
<ellipse cx="511.5" cy="188.8" rx="45.9" ry="79.9" transform="rotate(-29.7 511.5 188.8)" fill="#fff" stroke="#222" stroke-width="1.2"/>
<ellipse cx="510.6" cy="189.3" rx="43.4" ry="77.4" transform="rotate(-29.7 510.6 189.3)" fill="none" stroke="#222" stroke-width="0.7"/>
<ellipse cx="487.8" cy="202.3" rx="46.6" ry="79.0" transform="rotate(-30.9 487.8 202.3)" fill="#fff" stroke="#222" stroke-width="0"/>
<path d="M390.7 186.7 L434.2 154.2 L487.8 202.3 L503.0 273.0 L456.1 293.8Z" fill="#fff" stroke="#222" stroke-width="0" />
<ellipse cx="425.2" cy="239.1" rx="35.0" ry="62.8" transform="rotate(-31.7 425.2 239.1)" fill="#fff" stroke="#222" stroke-width="0"/>
<path d="M433.3 153.4 L434.6 149.8 L436.2 146.5 L438.0 143.4 L440.0 140.7 L442.3 138.2 L444.9 136.1 L447.6 134.3 L450.5 132.8 L453.6 131.7 L456.9 130.9 L460.4 130.5 L463.9 130.4 L467.6 130.7 L471.4 131.3 L475.3 132.3 L479.2 133.7 L483.2 135.3 L487.2 137.3 L491.2 139.7 L495.2 142.3 L499.1 145.2 L503.0 148.4 L506.8 151.9 L510.6 155.6 L514.2 159.6 L517.7 163.8 L521.0 168.1 L524.2 172.7 L527.2 177.3 L530.0 182.1 L532.5 187.0 L534.9 192.0 L537.0 197.0 L538.9 202.1 L540.6 207.1 L541.9 212.1 L543.1 217.1 L543.9 222.0 L544.4 226.8 L544.7 231.5 L544.7 236.1 L544.4 240.4 L543.9 244.6 L543.0 248.6 L541.9 252.3 L540.6 255.8 L538.9 259.1 L537.0 262.0 L534.9 264.7 L532.5 267.0 L529.9 269.1 L527.1 270.8 L524.1 272.2 L521.0 273.2 L517.6 273.8 L514.2 274.2 L510.5 274.1 L506.8 273.7 L503.0 273.0" fill="none" stroke="#222" stroke-width="1.5" />
<path d="M436.9 147.8 L438.7 144.8 L440.7 142.1 L442.9 139.7 L445.4 137.6 L448.1 135.9 L450.9 134.5 L454.0 133.4 L457.2 132.7 L460.6 132.3 L464.1 132.3 L467.7 132.6 L471.4 133.3 L475.2 134.3 L479.1 135.7 L483.0 137.4 L486.9 139.4 L490.9 141.8 L494.8 144.5 L498.6 147.4 L502.5 150.7 L506.2 154.2 L509.9 157.9 L513.4 161.9 L516.8 166.0 L520.0 170.4 L523.1 174.9 L526.0 179.6 L528.8 184.3 L531.3 189.2 L533.6 194.1 L535.6 199.1 L537.4 204.1 L539.0 209.1 L540.3 214.0 L541.3 218.9 L542.1 223.7 L542.6 228.4 L542.8 233.0 L542.7 237.4 L542.4 241.6 L541.7 245.7 L540.8 249.5 L539.7 253.1 L538.2 256.4 L536.5 259.5 L534.6 262.3 L532.4 264.8 L530.0 266.9 L527.4 268.8 L524.6 270.3 L521.6 271.5 L518.4 272.3 L515.1 272.7 L511.6 272.9 L508.0 272.6" fill="none" stroke="#222" stroke-width="0.7" />
<path d="M434.6 154.6 L436.0 151.9 L437.7 149.5 L439.6 147.3 L441.7 145.4 L444.0 143.9 L446.5 142.6 L449.1 141.7 L452.0 141.0 L454.9 140.7 L458.1 140.7 L461.3 141.0 L464.6 141.7 L468.0 142.6 L471.5 143.9 L475.1 145.5 L478.6 147.4 L482.2 149.5 L485.8 151.9 L489.3 154.6 L492.9 157.6 L496.3 160.8 L499.7 164.2 L503.0 167.8 L506.2 171.6 L509.3 175.5 L512.2 179.6 L514.9 183.9 L517.5 188.2 L520.0 192.6 L522.2 197.1 L524.2 201.6 L526.0 206.1 L527.6 210.6 L529.0 215.1 L530.1 219.5 L530.9 223.9 L531.6 228.1 L531.9 232.3 L532.0 236.3 L531.9 240.1 L531.5 243.8 L530.9 247.2 L530.0 250.5 L528.9 253.5 L527.5 256.3 L525.9 258.8 L524.1 261.0 L522.0 263.0 L519.8 264.7" fill="none" stroke="#222" stroke-width="0.7" />
<line x1="390.7" y1="186.7" x2="434.2" y2="154.2" stroke="#222" stroke-width="1.2" />
<line x1="456.1" y1="293.8" x2="503.0" y2="273.0" stroke="#222" stroke-width="1.2" />
<line x1="452.0" y1="293.3" x2="500.0" y2="273.5" stroke="#222" stroke-width="0.7" />
<path d="M521.0 202.0 C519.2 202.7 514.2 204.0 510.0 206.0 C505.8 208.0 500.3 211.0 496.0 214.0 C491.7 217.0 487.5 220.3 484.0 224.0 C480.5 227.7 477.3 231.7 475.0 236.0 C472.7 240.3 471.0 246.0 470.0 250.0 C469.0 254.0 468.3 257.0 469.0 260.0 C469.7 263.0 471.5 265.9 474.0 268.0 C476.5 270.1 480.3 271.7 484.0 272.4 C487.7 273.1 491.7 272.7 496.0 272.0 C500.3 271.3 505.8 269.3 510.0 268.0 C514.2 266.7 519.2 264.7 521.0 264.0" fill="none" stroke="#222" stroke-width="0.7" />
<line x1="521.0" y1="202.0" x2="521.0" y2="265.0" stroke="#444" stroke-width="0.7" />
<line x1="523.2" y1="212.0" x2="523.2" y2="264.0" stroke="#666" stroke-width="0.5" />
<path d="M501 241 L512.4 240 L524 234.4 L527 236.4 L527 240 L514 248 L505 249 L501 246 Z" fill="none" stroke="#222" stroke-width="1.1" />
<path d="M501 246 L504.8 244.6 L513.5 243.6 L527 236.4 M504.8 244.6 L505 249 M513.5 243.6 L514 248" fill="none" stroke="#222" stroke-width="0.7" />
<ellipse cx="425.2" cy="239.1" rx="35.0" ry="62.8" transform="rotate(-31.7 425.2 239.1)" fill="#fff" stroke="#222" stroke-width="0.9"/>
<path d="M456.1 293.8 L453.8 294.7 L451.3 295.3 L448.7 295.6 L446.0 295.7 L443.2 295.5 L440.3 295.0 L437.3 294.2 L434.3 293.2 L431.2 291.9 L428.1 290.3 L425.0 288.5 L421.9 286.4 L418.8 284.1 L415.7 281.6 L412.7 278.9 L409.7 275.9 L406.8 272.8 L404.1 269.6 L401.4 266.2 L398.8 262.6 L396.4 258.9 L394.1 255.2 L391.9 251.3 L389.9 247.4 L388.1 243.5 L386.5 239.5 L385.1 235.5 L383.8 231.6 L382.8 227.7 L382.0 223.8 L381.4 220.0 L381.0 216.3 L380.8 212.8 L380.9 209.3 L381.1 206.0 L381.6 202.9 L382.3 199.9 L383.2 197.2 L384.3 194.6 L385.6 192.3 L387.2 190.2 L388.9 188.3 L390.7 186.7" fill="none" stroke="#222" stroke-width="1.2" />
<ellipse cx="425.8" cy="238.8" rx="33.0" ry="60.6" transform="rotate(-31.7 425.8 238.8)" fill="none" stroke="#222" stroke-width="0.7"/>
<ellipse cx="423.8" cy="240.4" rx="19.7" ry="33.7" transform="rotate(-32.4 423.8 240.4)" fill="none" stroke="#222" stroke-width="1.3"/>
<ellipse cx="415.1" cy="193.8" rx="2.0" ry="3.3" transform="rotate(-36.0 415.1 193.8)" fill="none" stroke="#222" stroke-width="1.2"/>
<ellipse cx="423.1" cy="207.9" rx="2.0" ry="3.3" transform="rotate(-36.0 423.1 207.9)" fill="none" stroke="#222" stroke-width="1.2"/>
<ellipse cx="388.0" cy="229.6" rx="2.0" ry="3.3" transform="rotate(-36.0 388.0 229.6)" fill="none" stroke="#222" stroke-width="1.2"/>
<ellipse cx="400.3" cy="242.6" rx="2.0" ry="3.3" transform="rotate(-36.0 400.3 242.6)" fill="none" stroke="#222" stroke-width="1.2"/>
<ellipse cx="459.5" cy="250.6" rx="2.0" ry="3.3" transform="rotate(-36.0 459.5 250.6)" fill="none" stroke="#222" stroke-width="1.2"/>
<ellipse cx="448.7" cy="269.7" rx="2.0" ry="3.3" transform="rotate(-36.0 448.7 269.7)" fill="none" stroke="#222" stroke-width="1.2"/>
<ellipse cx="432.4" cy="286.6" rx="2.0" ry="3.3" transform="rotate(-36.0 432.4 286.6)" fill="none" stroke="#222" stroke-width="1.2"/>
<path d="M399.3 183.0 C399.6 183.7 400.4 186.1 401.1 187.4 C401.9 188.7 403.1 190.0 404.1 190.8 C405.0 191.7 406.0 192.2 406.7 192.2 C407.5 192.2 408.1 191.7 408.4 190.9 C408.8 190.1 409.1 188.8 409.1 187.4 C409.0 186.1 408.3 183.7 408.1 182.9" fill="#fff" stroke="#222" stroke-width="0.9" />
<path d="M402.3 183.6 C402.8 184.3 404.0 186.5 404.9 187.8 C405.8 189.0 407.2 190.6 407.7 191.2" fill="none" stroke="#555" stroke-width="0.5" />
<path d="M443.4 205.1 C443.0 205.6 441.6 207.0 441.2 208.2 C440.9 209.4 440.9 211.1 441.2 212.5 C441.4 213.8 442.1 215.1 442.8 216.0 C443.5 217.0 444.5 217.8 445.6 218.2 C446.7 218.6 448.1 218.7 449.2 218.4 C450.3 218.1 451.6 216.5 452.0 216.2" fill="#fff" stroke="#222" stroke-width="0.9" />
<path d="M445.6 209.3 C445.5 209.9 444.9 211.7 444.7 213.0 C444.5 214.3 444.6 216.4 444.6 217.1" fill="none" stroke="#555" stroke-width="0.5" />
<path d="M469.6 262.8 C468.9 262.6 466.8 261.5 465.6 261.4 C464.5 261.2 463.3 261.6 462.6 262.0 C461.9 262.5 461.5 263.2 461.5 264.2 C461.4 265.1 461.9 266.4 462.5 267.6 C463.2 268.8 464.3 270.4 465.4 271.4 C466.5 272.4 468.5 273.4 469.2 273.8" fill="#fff" stroke="#222" stroke-width="0.9" />
<path d="M468.7 266.3 C468.2 266.2 466.3 265.7 465.2 265.7 C464.2 265.7 462.8 266.2 462.3 266.3" fill="none" stroke="#555" stroke-width="0.5" />
<path d="M447.9 295.7 C447.7 294.9 447.2 292.6 446.4 291.2 C445.7 289.9 444.6 288.4 443.7 287.5 C442.8 286.6 441.8 286.0 441.0 285.8 C440.2 285.7 439.6 286.1 439.1 286.9 C438.6 287.6 438.2 288.8 438.1 290.1 C438.1 291.4 438.7 293.9 438.8 294.6" fill="#fff" stroke="#222" stroke-width="0.9" />
<path d="M444.9 294.7 C444.5 293.9 443.4 291.7 442.6 290.3 C441.7 289.0 440.4 287.3 440.0 286.7" fill="none" stroke="#555" stroke-width="0.5" />
<path d="M403.7 269.2 C404.1 268.7 405.7 267.6 406.1 266.4 C406.6 265.3 406.7 263.6 406.5 262.3 C406.3 261.0 405.8 259.7 405.1 258.7 C404.4 257.7 403.4 256.8 402.3 256.3 C401.2 255.8 399.7 255.5 398.6 255.7 C397.5 255.9 396.0 257.3 395.5 257.6" fill="#fff" stroke="#222" stroke-width="0.9" />
<path d="M401.7 264.9 C401.9 264.3 402.6 262.7 402.9 261.4 C403.1 260.2 403.2 258.1 403.3 257.5" fill="none" stroke="#555" stroke-width="0.5" />
<path d="M381.3 219.2 C381.9 219.4 384.1 220.4 385.2 220.4 C386.4 220.4 387.5 219.9 388.2 219.4 C388.8 218.8 389.2 218.0 389.1 217.1 C389.1 216.1 388.6 214.8 387.9 213.6 C387.2 212.4 386.0 210.9 384.8 209.9 C383.7 209.0 381.6 208.2 380.9 207.8" fill="#fff" stroke="#222" stroke-width="0.9" />
<path d="M381.9 215.6 C382.5 215.6 384.3 216.0 385.3 215.9 C386.4 215.8 387.7 215.1 388.1 215.0" fill="none" stroke="#555" stroke-width="0.5" />
<line x1="388.4" y1="260.0" x2="404.7" y2="251.3" stroke="#555" stroke-width="0.7" />
<line x1="413.3" y1="245.8" x2="428.5" y2="238.9" stroke="#555" stroke-width="0.7" />
<line x1="432.8" y1="235.5" x2="437.2" y2="233.2" stroke="#555" stroke-width="0.7" />
<line x1="359.0" y1="276.5" x2="381.0" y2="264.5" stroke="#555" stroke-width="0.7" />
<line x1="480.5" y1="95.0" x2="480.5" y2="125.5" stroke="#777" stroke-width="1.0" />
<g class="t"><text x="481.5" y="91.5" font-size="13" text-anchor="middle">63</text></g>
<path d="M543 106.5 L548 104.8 L552 107 L552.3 113 L548.3 116.6 L544 115.3 Z" fill="#fff" stroke="#222" stroke-width="1.1" />
<path d="M543.5 109 L536 112.5 Q533.6 114.5 534.6 117.5 Q536 120.3 539 119 L545.3 115.8" fill="#fff" stroke="#222" stroke-width="1.1" />
<line x1="537.3" y1="112.3" x2="539.3" y2="118.3" stroke="#555" stroke-width="0.5" />
<line x1="539.1" y1="111.5" x2="541.1" y2="117.5" stroke="#555" stroke-width="0.5" />
<line x1="540.9" y1="110.7" x2="542.9" y2="116.7" stroke="#555" stroke-width="0.5" />
<line x1="542.7" y1="109.9" x2="544.7" y2="115.9" stroke="#555" stroke-width="0.5" />
<line x1="533.3" y1="119.3" x2="519.7" y2="127.3" stroke="#444" stroke-width="0.7" />
<line x1="548.7" y1="94.0" x2="548.7" y2="104.5" stroke="#777" stroke-width="1.0" />
<g class="t"><text x="547.7" y="90.7" font-size="13" text-anchor="middle">64</text></g>
<path d="M318.2 231 Q317.6 224.5 323.5 227.3 L383 259.5 Q387.7 262 387.8 267.5 L388.3 333 Q388.3 340 382.5 337 L322.5 305.5 Q317.6 303 317.7 297.5 Z" fill="#fff" stroke="#222" stroke-width="1.2" />
<path d="M386 261.5 Q389.7 264 389.8 268 L390.3 334 Q390 340.5 385 339.3" fill="none" stroke="#222" stroke-width="0.7" />
<ellipse cx="353.1" cy="282.0" rx="18.8" ry="34.9" transform="rotate(-32.0 353.1 282.0)" fill="none" stroke="#222" stroke-width="1.3"/>
<ellipse cx="325.2" cy="234.0" rx="2.6" ry="3.8" transform="rotate(-25.0 325.2 234.0)" fill="none" stroke="#222" stroke-width="0.9"/>
<ellipse cx="379.9" cy="265.5" rx="2.6" ry="3.8" transform="rotate(-25.0 379.9 265.5)" fill="none" stroke="#222" stroke-width="0.9"/>
<ellipse cx="324.7" cy="297.2" rx="2.6" ry="3.8" transform="rotate(-25.0 324.7 297.2)" fill="none" stroke="#222" stroke-width="0.9"/>
<ellipse cx="380.0" cy="328.7" rx="2.6" ry="3.8" transform="rotate(-25.0 380.0 328.7)" fill="none" stroke="#222" stroke-width="0.9"/>
<line x1="337.5" y1="219.5" x2="337.5" y2="239.5" stroke="#777" stroke-width="1.0" />
<g class="t"><text x="338.3" y="216.0" font-size="13" text-anchor="middle">34</text></g>
<line x1="327.0" y1="296.0" x2="344.0" y2="286.5" stroke="#555" stroke-width="0.7" />
<line x1="348.0" y1="284.3" x2="351.0" y2="282.7" stroke="#555" stroke-width="0.7" />
<line x1="355.0" y1="280.5" x2="368.0" y2="273.5" stroke="#555" stroke-width="0.7" />
<line x1="262.5" y1="536.5" x2="275.0" y2="529.2" stroke="#888" stroke-width="1.1" />
<path d="M280.1 507.3 L281.3 508.0 L282.5 508.7 L283.7 509.6 L284.9 510.5 L286.1 511.5 L287.2 512.6 L288.3 513.8 L289.4 515.0 L290.4 516.3 L291.4 517.6 L292.3 519.0 L293.1 520.4 L293.9 521.8 L294.7 523.3 L295.3 524.7 L295.9 526.2 L296.4 527.7 L296.8 529.2 L297.2 530.6 L297.5 532.1 L297.6 533.5 L297.7 534.8 L297.7 536.2 L297.7 537.4 L297.5 538.7 L297.3 539.8 L296.9 540.9 L296.5 541.9 L296.0 542.9 L295.5 543.7 L294.8 544.5 L294.1 545.2 L293.4 545.8 L292.5 546.3 L291.6 546.7 L290.7 547.0 L289.6 547.2 L288.6 547.2 L287.5 547.2 L286.4 547.1 L285.2 546.9 L284.0 546.5 L282.8 546.1 L281.6 545.6 L280.4 545.0 L279.2 544.2 L278.0 543.4 L276.8 542.6 L275.6 541.6 L274.5 540.5 L273.4 539.4 L272.3 538.2 L271.2 537.0 L270.2 535.7 L269.3 534.3 L268.4 533.0 L267.5 531.5 L266.8 530.1 L266.1 528.6 L265.4 527.2 L264.9 525.7 L264.4 524.2 L264.0 522.7 L263.7 521.3 L263.5 519.9 L263.3 518.5 L263.3 517.1 L263.3 515.8 L263.4 514.6 L263.6 513.4 L263.9 512.2 L264.2 511.2 L264.7 510.2 L265.2 509.3 L265.8 508.4 L266.4 507.7 L267.2 507.0 L268.0 506.5 L268.8 506.0 L269.8 505.7 L270.7 505.4 L271.8 505.3 L272.8 505.3 L273.9 505.3 L275.1 505.5 L276.2 505.7 L277.4 506.1 L278.6 506.6 L278.4 508.9 L277.4 508.4 L276.3 508.1 L275.3 507.8 L274.4 507.6 L273.4 507.6 L272.5 507.6 L271.6 507.7 L270.8 507.9 L270.0 508.2 L269.2 508.5 L268.6 509.0 L268.0 509.5 L267.4 510.2 L266.9 510.9 L266.5 511.7 L266.1 512.5 L265.8 513.5 L265.6 514.5 L265.5 515.5 L265.4 516.6 L265.4 517.8 L265.5 519.0 L265.7 520.2 L265.9 521.5 L266.2 522.8 L266.6 524.1 L267.1 525.4 L267.6 526.7 L268.2 528.0 L268.8 529.3 L269.5 530.6 L270.2 531.9 L271.0 533.1 L271.9 534.3 L272.8 535.5 L273.7 536.6 L274.7 537.7 L275.7 538.7 L276.7 539.6 L277.7 540.5 L278.8 541.3 L279.8 542.1 L280.9 542.7 L282.0 543.3 L283.0 543.8 L284.0 544.2 L285.1 544.5 L286.1 544.8 L287.0 544.9 L288.0 545.0 L288.9 544.9 L289.7 544.8 L290.6 544.5 L291.3 544.2 L292.0 543.8 L292.7 543.3 L293.3 542.7 L293.8 542.0 L294.3 541.3 L294.7 540.5 L295.0 539.6 L295.3 538.6 L295.4 537.6 L295.5 536.5 L295.6 535.4 L295.5 534.2 L295.4 533.0 L295.2 531.8 L295.0 530.5 L294.6 529.2 L294.2 527.9 L293.7 526.6 L293.2 525.3 L292.6 524.0 L291.9 522.7 L291.2 521.4 L290.4 520.1 L289.6 518.9 L288.8 517.7 L287.8 516.6 L286.9 515.5 L285.9 514.4 L284.9 513.4 L283.9 512.5 L282.9 511.6 L281.8 510.8 L280.7 510.1 L279.7 509.5Z" fill="#fff" stroke="#222" stroke-width="1.1" />
<ellipse cx="276.2" cy="510.2" rx="1.4" ry="1.7" transform="rotate(-33.1 276.2 510.2)" fill="#fff" stroke="#222" stroke-width="0.9"/>
<ellipse cx="276.2" cy="510.2" rx="0.6" ry="0.7" transform="rotate(-33.1 276.2 510.2)" fill="none" stroke="#222" stroke-width="0.7"/>
<ellipse cx="283.0" cy="514.0" rx="1.4" ry="1.7" transform="rotate(-33.1 283.0 514.0)" fill="#fff" stroke="#222" stroke-width="0.9"/>
<ellipse cx="283.0" cy="514.0" rx="0.6" ry="0.7" transform="rotate(-33.1 283.0 514.0)" fill="none" stroke="#222" stroke-width="0.7"/>
<line x1="276.0" y1="528.6" x2="292.0" y2="519.2" stroke="#888" stroke-width="1.1" />
<line x1="270.5" y1="429.0" x2="270.5" y2="505.5" stroke="#777" stroke-width="1.0" />
<g class="t"><text x="270.4" y="426.3" font-size="13" text-anchor="middle">18</text></g>
<path d="M323.3 532.3 L322.3 532.8 L321.1 533.2 L320.0 533.5 L318.8 533.7 L317.5 533.7 L316.2 533.7 L314.9 533.5 L313.6 533.1 L312.2 532.7 L310.9 532.1 L309.5 531.4 L308.2 530.6 L306.8 529.7 L305.5 528.7 L304.2 527.6 L302.9 526.4 L301.7 525.1 L300.5 523.8 L299.3 522.3 L298.2 520.8 L297.2 519.2 L296.3 517.6 L295.4 515.9 L294.5 514.2 L293.8 512.4 L293.1 510.7 L292.6 508.9 L292.1 507.1 L291.7 505.3 L291.4 503.6 L291.1 501.8 L291.0 500.1 L291.0 498.5 L291.1 496.8 L291.2 495.3 L291.5 493.8 L291.8 492.4 L292.3 491.0 L292.8 489.7 L293.4 488.6 L294.1 487.5 L294.9 486.5 L295.8 485.6 L296.7 484.9 L297.7 484.2 L302.4 481.5 L303.5 480.9 L304.6 480.5 L305.8 480.2 L307.0 480.0 L308.2 480.0 L309.5 480.1 L310.9 480.3 L312.2 480.6 L313.5 481.1 L314.9 481.6 L316.3 482.3 L317.6 483.1 L319.0 484.0 L320.3 485.0 L321.6 486.1 L322.9 487.3 L324.1 488.6 L325.3 490.0 L326.4 491.4 L327.5 493.0 L328.5 494.5 L329.5 496.2 L330.4 497.9 L331.2 499.6 L332.0 501.3 L332.6 503.1 L333.2 504.9 L333.7 506.6 L334.1 508.4 L334.4 510.2 L334.6 511.9 L334.7 513.6 L334.8 515.3 L334.7 516.9 L334.5 518.5 L334.3 520.0 L333.9 521.4 L333.5 522.7 L332.9 524.0 L332.3 525.2 L331.6 526.3 L330.9 527.3 L330.0 528.1 L329.1 528.9 L328.1 529.5Z" fill="#fff" stroke="#222" stroke-width="1.3" />
<ellipse cx="310.5" cy="508.2" rx="17.0" ry="27.3" transform="rotate(-26.8 310.5 508.2)" fill="#fff" stroke="#222" stroke-width="1.3"/>
<path d="M301.0 482.4 L302.1 482.0 L303.3 481.7 L304.5 481.5 L305.7 481.5 L307.0 481.5 L308.3 481.7 L309.7 482.1 L311.0 482.5 L312.4 483.1 L313.7 483.8 L315.1 484.5 L316.4 485.5 L317.8 486.5 L319.1 487.6 L320.3 488.8 L321.6 490.1 L322.8 491.4 L323.9 492.9 L325.0 494.4 L326.0 496.0 L327.0 497.6 L327.9 499.3 L328.7 501.0 L329.4 502.8 L330.1 504.5 L330.7 506.3 L331.2 508.1 L331.6 509.9 L331.9 511.6 L332.1 513.4 L332.2 515.1 L332.2 516.7 L332.2 518.3 L332.0 519.9 L331.8 521.4 L331.4 522.8 L331.0 524.2 L330.4 525.5 L329.8 526.6 L329.1 527.7 L328.3 528.7 L327.5 529.6 L326.6 530.3 L325.6 531.0 L324.5 531.5" fill="none" stroke="#222" stroke-width="0.7" />
<ellipse cx="310.1" cy="509.4" rx="12.4" ry="21.2" transform="rotate(-32.0 310.1 509.4)" fill="none" stroke="#222" stroke-width="0.7"/>
<ellipse cx="315.4" cy="506.8" rx="5.2" ry="15.6" transform="rotate(-32.0 315.4 506.8)" fill="none" stroke="#222" stroke-width="1.4"/>
<path d="M316.1 521.1 L315.4 520.7 L314.7 520.1 L314.0 519.5 L313.3 518.8 L312.5 518.1 L311.8 517.3 L311.1 516.5 L310.4 515.7 L309.7 514.8 L309.0 513.8 L308.3 512.9 L307.7 511.9 L307.1 510.9 L306.5 509.9 L305.9 508.9 L305.4 507.9 L304.9 506.8 L304.5 505.8 L304.1 504.8 L303.7 503.9 L303.4 502.9 L303.1 502.0 L302.9 501.1 L302.7 500.2 L302.6 499.4 L302.5 498.6 L302.5 497.9 L302.6 497.2 L302.6 496.5 L302.8 496.0 L302.9 495.5 L303.2 495.0 L303.5 494.6 L303.8 494.3 L304.1 494.1 L304.6 493.9 L305.0 493.8 L305.5 493.8 L306.0 493.9 L306.6 494.0 L307.2 494.2 L307.8 494.4" fill="none" stroke="#222" stroke-width="0.7" />
<line x1="334.0" y1="494.7" x2="338.0" y2="492.3" stroke="#888" stroke-width="1.1" />
<line x1="306.8" y1="429.0" x2="306.8" y2="482.5" stroke="#777" stroke-width="1.0" />
<g class="t"><text x="306.6" y="426.3" font-size="13" text-anchor="middle">19</text></g>
<ellipse cx="347.8" cy="487.0" rx="14.7" ry="27.2" transform="rotate(-32.2 347.8 487.0)" fill="none" stroke="#222" stroke-width="1.2"/>
<ellipse cx="347.8" cy="487.0" rx="13.0" ry="25.5" transform="rotate(-32.2 347.8 487.0)" fill="none" stroke="#222" stroke-width="1.0"/>
<line x1="331.3" y1="496.3" x2="338.0" y2="492.3" stroke="#888" stroke-width="1.1" />
<line x1="342.7" y1="489.6" x2="356.7" y2="481.4" stroke="#888" stroke-width="1.1" />
<line x1="340.0" y1="429.0" x2="340.0" y2="463.0" stroke="#777" stroke-width="1.0" />
<g class="t"><text x="340.0" y="426.3" font-size="13" text-anchor="middle">20</text></g>
<path d="M372.7 457.2 L373.5 457.7 L374.3 458.2 L375.1 458.8 L375.9 459.4 L376.7 460.1 L377.4 460.8 L378.2 461.6 L378.9 462.4 L379.6 463.3 L380.3 464.2 L381.0 465.1 L381.6 466.1 L382.1 467.1 L382.7 468.1 L383.2 469.1 L383.6 470.1 L384.0 471.1 L384.3 472.2 L384.6 473.2 L384.8 474.2 L385.0 475.1 L385.1 476.1 L385.2 477.0 L385.2 477.9 L385.1 478.8 L385.0 479.6 L384.9 480.4 L384.7 481.1 L384.4 481.8 L384.1 482.4 L383.7 482.9 L383.3 483.4 L382.8 483.9 L382.3 484.2 L381.7 484.5 L381.1 484.7 L380.5 484.9 L379.8 485.0 L379.1 485.0 L378.4 484.9 L377.6 484.8 L376.8 484.6 L376.1 484.3 L375.3 484.0 L374.5 483.6 L373.7 483.1 L372.9 482.6 L372.1 482.0 L371.3 481.3 L370.5 480.6 L369.7 479.8 L369.0 479.0 L368.2 478.2 L367.6 477.3 L366.9 476.4 L366.3 475.4 L365.7 474.5 L365.1 473.5 L364.6 472.5 L364.1 471.4 L363.7 470.4 L363.4 469.4 L363.1 468.4 L362.8 467.4 L362.6 466.4 L362.4 465.4 L362.3 464.5 L362.3 463.6 L362.3 462.7 L362.4 461.8 L362.5 461.0 L362.7 460.3 L363.0 459.6 L363.3 458.9 L363.6 458.4 L364.0 457.8 L364.5 457.4 L364.9 457.0 L365.5 456.6 L366.1 456.4 L366.7 456.2 L367.3 456.1 L368.0 456.0 L368.7 456.0 L369.5 456.1 L370.2 456.3 L371.0 456.5 L371.8 456.8 L371.7 459.0 L371.0 458.7 L370.4 458.5 L369.8 458.4 L369.2 458.2 L368.6 458.2 L368.1 458.2 L367.6 458.3 L367.1 458.4 L366.6 458.6 L366.2 458.9 L365.8 459.2 L365.5 459.6 L365.2 460.0 L365.0 460.5 L364.7 461.0 L364.6 461.6 L364.5 462.2 L364.4 462.8 L364.4 463.5 L364.4 464.3 L364.4 465.0 L364.6 465.8 L364.7 466.6 L364.9 467.5 L365.2 468.3 L365.5 469.2 L365.8 470.0 L366.2 470.9 L366.6 471.8 L367.0 472.6 L367.5 473.5 L368.0 474.3 L368.5 475.1 L369.1 475.9 L369.7 476.7 L370.3 477.4 L370.9 478.1 L371.6 478.8 L372.2 479.4 L372.9 480.0 L373.5 480.5 L374.2 481.0 L374.8 481.4 L375.5 481.8 L376.1 482.1 L376.8 482.4 L377.4 482.6 L378.0 482.7 L378.6 482.8 L379.1 482.8 L379.7 482.8 L380.2 482.7 L380.6 482.5 L381.1 482.3 L381.5 482.0 L381.8 481.7 L382.1 481.3 L382.4 480.8 L382.6 480.3 L382.8 479.8 L383.0 479.2 L383.1 478.5 L383.1 477.9 L383.1 477.1 L383.1 476.4 L383.0 475.6 L382.9 474.8 L382.7 474.0 L382.5 473.2 L382.2 472.3 L381.9 471.4 L381.5 470.6 L381.2 469.7 L380.7 468.8 L380.3 468.0 L379.8 467.1 L379.3 466.3 L378.7 465.5 L378.1 464.7 L377.5 464.0 L376.9 463.3 L376.3 462.6 L375.7 461.9 L375.0 461.3 L374.3 460.8 L373.7 460.3 L373.0 459.8 L372.4 459.4Z" fill="#fff" stroke="#222" stroke-width="1.1" />
<ellipse cx="370.3" cy="458.7" rx="1.2" ry="1.5" transform="rotate(-32.0 370.3 458.7)" fill="#fff" stroke="#222" stroke-width="0.9"/>
<ellipse cx="370.3" cy="458.7" rx="0.5" ry="0.6" transform="rotate(-32.0 370.3 458.7)" fill="none" stroke="#222" stroke-width="0.7"/>
<ellipse cx="374.8" cy="460.6" rx="1.2" ry="1.5" transform="rotate(-32.0 374.8 460.6)" fill="#fff" stroke="#222" stroke-width="0.9"/>
<ellipse cx="374.8" cy="460.6" rx="0.5" ry="0.6" transform="rotate(-32.0 374.8 460.6)" fill="none" stroke="#222" stroke-width="0.7"/>
<line x1="364.0" y1="477.2" x2="378.7" y2="468.6" stroke="#888" stroke-width="1.1" />
<line x1="385.3" y1="464.7" x2="389.3" y2="462.4" stroke="#888" stroke-width="1.1" />
<line x1="368.2" y1="429.0" x2="368.2" y2="456.0" stroke="#777" stroke-width="1.0" />
<g class="t"><text x="368.0" y="426.3" font-size="13" text-anchor="middle">21</text></g>
<path d="M420.0 475.5 L419.0 476.0 L417.9 476.4 L416.9 476.6 L415.7 476.7 L414.5 476.7 L413.3 476.6 L412.1 476.4 L410.8 476.0 L409.5 475.5 L408.2 474.9 L406.9 474.2 L405.6 473.4 L404.3 472.5 L403.0 471.5 L401.7 470.3 L400.5 469.1 L399.3 467.8 L398.1 466.4 L397.0 465.0 L395.9 463.5 L394.9 461.9 L393.9 460.3 L393.0 458.6 L392.2 456.9 L391.4 455.2 L390.7 453.4 L390.1 451.7 L389.6 449.9 L389.1 448.2 L388.8 446.5 L388.5 444.8 L388.3 443.1 L388.3 441.5 L388.3 439.9 L388.4 438.4 L388.6 436.9 L388.8 435.5 L389.2 434.2 L389.7 433.0 L390.2 431.9 L390.8 430.8 L391.5 429.9 L392.3 429.1 L393.1 428.4 L394.0 427.7 L403.1 422.7 L404.0 422.2 L405.0 421.9 L406.0 421.7 L407.1 421.6 L408.3 421.6 L409.4 421.7 L410.6 422.0 L411.9 422.4 L413.1 422.9 L414.4 423.5 L415.6 424.2 L416.9 425.1 L418.2 426.0 L419.4 427.1 L420.7 428.2 L421.9 429.4 L423.1 430.8 L424.3 432.1 L425.4 433.6 L426.4 435.1 L427.5 436.7 L428.4 438.3 L429.3 440.0 L430.2 441.7 L430.9 443.4 L431.6 445.2 L432.2 446.9 L432.8 448.7 L433.2 450.4 L433.6 452.1 L433.9 453.8 L434.1 455.5 L434.2 457.1 L434.2 458.6 L434.2 460.1 L434.0 461.6 L433.8 462.9 L433.5 464.2 L433.0 465.4 L432.5 466.5 L432.0 467.5 L431.3 468.4 L430.6 469.2 L429.8 469.9 L428.9 470.5Z" fill="#fff" stroke="#222" stroke-width="1.3" />
<ellipse cx="407.0" cy="451.6" rx="15.6" ry="27.2" transform="rotate(-27.7 407.0 451.6)" fill="#fff" stroke="#222" stroke-width="1.3"/>
<ellipse cx="407.8" cy="452.0" rx="12.0" ry="22.7" transform="rotate(-32.0 407.8 452.0)" fill="none" stroke="#222" stroke-width="1.0"/>
<ellipse cx="407.8" cy="452.4" rx="10.0" ry="18.0" transform="rotate(-32.0 407.8 452.4)" fill="none" stroke="#222" stroke-width="1.0"/>
<ellipse cx="407.4" cy="452.4" rx="8.4" ry="15.5" transform="rotate(-32.0 407.4 452.4)" fill="none" stroke="#222" stroke-width="1.5"/>
<path d="M415.2 461.5 L414.6 461.3 L414.0 461.0 L413.4 460.6 L412.7 460.2 L412.1 459.8 L411.5 459.3 L410.8 458.8 L410.2 458.2 L409.6 457.6 L409.0 456.9 L408.4 456.2 L407.8 455.5 L407.2 454.7 L406.7 453.9 L406.2 453.1 L405.7 452.3 L405.2 451.5 L404.8 450.6 L404.4 449.8 L404.1 449.0 L403.8 448.1 L403.5 447.3 L403.2 446.5 L403.1 445.7 L402.9 444.9 L402.8 444.1 L402.7 443.4 L402.7 442.7 L402.8 442.1 L402.8 441.4 L402.9 440.9 L403.1 440.3 L403.3 439.9 L403.6 439.4 L403.8 439.0 L404.2 438.7 L404.5 438.4 L404.9 438.2 L405.4 438.1 L405.8 438.0 L406.3 437.9 L406.8 438.0" fill="none" stroke="#222" stroke-width="0.7" />
<ellipse cx="394.9" cy="436.9" rx="1.6" ry="2.2" transform="rotate(133.0 394.9 436.9)" fill="none" stroke="#222" stroke-width="0.7"/>
<ellipse cx="393.9" cy="446.9" rx="1.6" ry="2.2" transform="rotate(93.0 393.9 446.9)" fill="none" stroke="#222" stroke-width="0.7"/>
<ellipse cx="399.4" cy="459.3" rx="1.6" ry="2.2" transform="rotate(53.0 399.4 459.3)" fill="none" stroke="#222" stroke-width="0.7"/>
<ellipse cx="410.0" cy="468.9" rx="1.6" ry="2.2" transform="rotate(8.0 410.0 468.9)" fill="none" stroke="#222" stroke-width="0.7"/>
<ellipse cx="417.7" cy="469.7" rx="1.6" ry="2.2" transform="rotate(-27.0 417.7 469.7)" fill="none" stroke="#222" stroke-width="0.7"/>
<ellipse cx="421.7" cy="464.0" rx="1.6" ry="2.2" transform="rotate(-62.0 421.7 464.0)" fill="none" stroke="#222" stroke-width="0.7"/>
<line x1="403.0" y1="454.4" x2="413.0" y2="448.5" stroke="#888" stroke-width="1.1" />
<line x1="404.2" y1="386.5" x2="404.2" y2="423.5" stroke="#777" stroke-width="1.0" />
<g class="t"><text x="405.4" y="385.0" font-size="13" text-anchor="middle">22</text></g>
<path d="M445.8 405.5 L447.3 406.3 L448.7 407.2 L450.1 408.3 L451.6 409.4 L453.0 410.6 L454.3 411.9 L455.6 413.3 L456.9 414.8 L458.1 416.4 L459.3 418.0 L460.4 419.7 L461.4 421.4 L462.4 423.1 L463.3 424.9 L464.0 426.7 L464.8 428.5 L465.4 430.4 L465.9 432.2 L466.3 434.0 L466.6 435.8 L466.9 437.5 L467.0 439.2 L467.0 440.9 L466.9 442.4 L466.7 444.0 L466.4 445.4 L466.1 446.8 L465.6 448.1 L465.0 449.3 L464.3 450.4 L463.6 451.4 L462.7 452.2 L461.8 453.0 L460.8 453.6 L459.7 454.2 L458.6 454.6 L457.4 454.8 L456.1 455.0 L454.8 455.0 L453.5 454.9 L452.1 454.6 L450.7 454.3 L449.3 453.8 L447.8 453.2 L446.4 452.4 L444.9 451.6 L443.5 450.6 L442.0 449.6 L440.6 448.4 L439.2 447.1 L437.9 445.8 L436.6 444.3 L435.3 442.8 L434.1 441.2 L433.0 439.6 L431.9 437.9 L430.9 436.2 L430.0 434.4 L429.2 432.6 L428.4 430.8 L427.7 429.0 L427.2 427.2 L426.7 425.3 L426.3 423.6 L426.0 421.8 L425.8 420.1 L425.8 418.4 L425.8 416.8 L425.9 415.2 L426.1 413.7 L426.5 412.3 L426.9 410.9 L427.4 409.7 L428.0 408.5 L428.7 407.5 L429.5 406.5 L430.4 405.7 L431.3 405.0 L432.4 404.4 L433.5 403.9 L434.6 403.6 L435.9 403.3 L437.1 403.3 L438.5 403.3 L439.8 403.5 L441.2 403.7 L442.6 404.2 L444.1 404.7 L443.6 410.6 L442.5 410.2 L441.5 409.8 L440.5 409.5 L439.6 409.3 L438.6 409.2 L437.7 409.2 L436.9 409.3 L436.1 409.5 L435.4 409.8 L434.7 410.2 L434.0 410.7 L433.5 411.3 L432.9 412.0 L432.5 412.7 L432.1 413.6 L431.8 414.5 L431.6 415.5 L431.4 416.5 L431.4 417.6 L431.3 418.8 L431.4 420.0 L431.6 421.3 L431.8 422.6 L432.1 423.9 L432.4 425.3 L432.8 426.7 L433.3 428.1 L433.9 429.5 L434.5 430.9 L435.2 432.3 L435.9 433.7 L436.7 435.0 L437.5 436.3 L438.4 437.6 L439.3 438.9 L440.3 440.1 L441.3 441.2 L442.3 442.3 L443.3 443.3 L444.4 444.3 L445.4 445.1 L446.5 445.9 L447.5 446.7 L448.6 447.3 L449.6 447.8 L450.6 448.3 L451.6 448.6 L452.6 448.8 L453.6 449.0 L454.5 449.1 L455.4 449.0 L456.2 448.9 L457.0 448.6 L457.7 448.3 L458.4 447.8 L459.0 447.3 L459.5 446.7 L460.0 446.0 L460.4 445.2 L460.8 444.3 L461.0 443.4 L461.2 442.4 L461.4 441.3 L461.4 440.2 L461.4 439.0 L461.3 437.7 L461.1 436.4 L460.9 435.1 L460.6 433.8 L460.2 432.4 L459.7 431.0 L459.2 429.6 L458.6 428.2 L458.0 426.8 L457.3 425.4 L456.5 424.0 L455.7 422.7 L454.9 421.4 L454.0 420.1 L453.0 418.9 L452.1 417.7 L451.1 416.6 L450.1 415.5 L449.0 414.5 L448.0 413.6 L446.9 412.8 L445.9 412.0 L444.8 411.3Z" fill="#fff" stroke="#222" stroke-width="1.2" />
<ellipse cx="441.3" cy="409.8" rx="2.3" ry="2.9" transform="rotate(-31.1 441.3 409.8)" fill="#fff" stroke="#222" stroke-width="0.9"/>
<ellipse cx="441.3" cy="409.8" rx="1.0" ry="1.2" transform="rotate(-31.1 441.3 409.8)" fill="none" stroke="#222" stroke-width="0.7"/>
<ellipse cx="449.2" cy="414.4" rx="2.3" ry="2.9" transform="rotate(-31.1 449.2 414.4)" fill="#fff" stroke="#222" stroke-width="0.9"/>
<ellipse cx="449.2" cy="414.4" rx="1.0" ry="1.2" transform="rotate(-31.1 449.2 414.4)" fill="none" stroke="#222" stroke-width="0.7"/>
<line x1="435.5" y1="435.5" x2="456.5" y2="424.2" stroke="#555" stroke-width="0.8" />
<line x1="438.8" y1="386.5" x2="438.8" y2="402.5" stroke="#777" stroke-width="1.0" />
<g class="t"><text x="439.6" y="385.0" font-size="13" text-anchor="middle">23</text></g>
</svg>
</body></html>
